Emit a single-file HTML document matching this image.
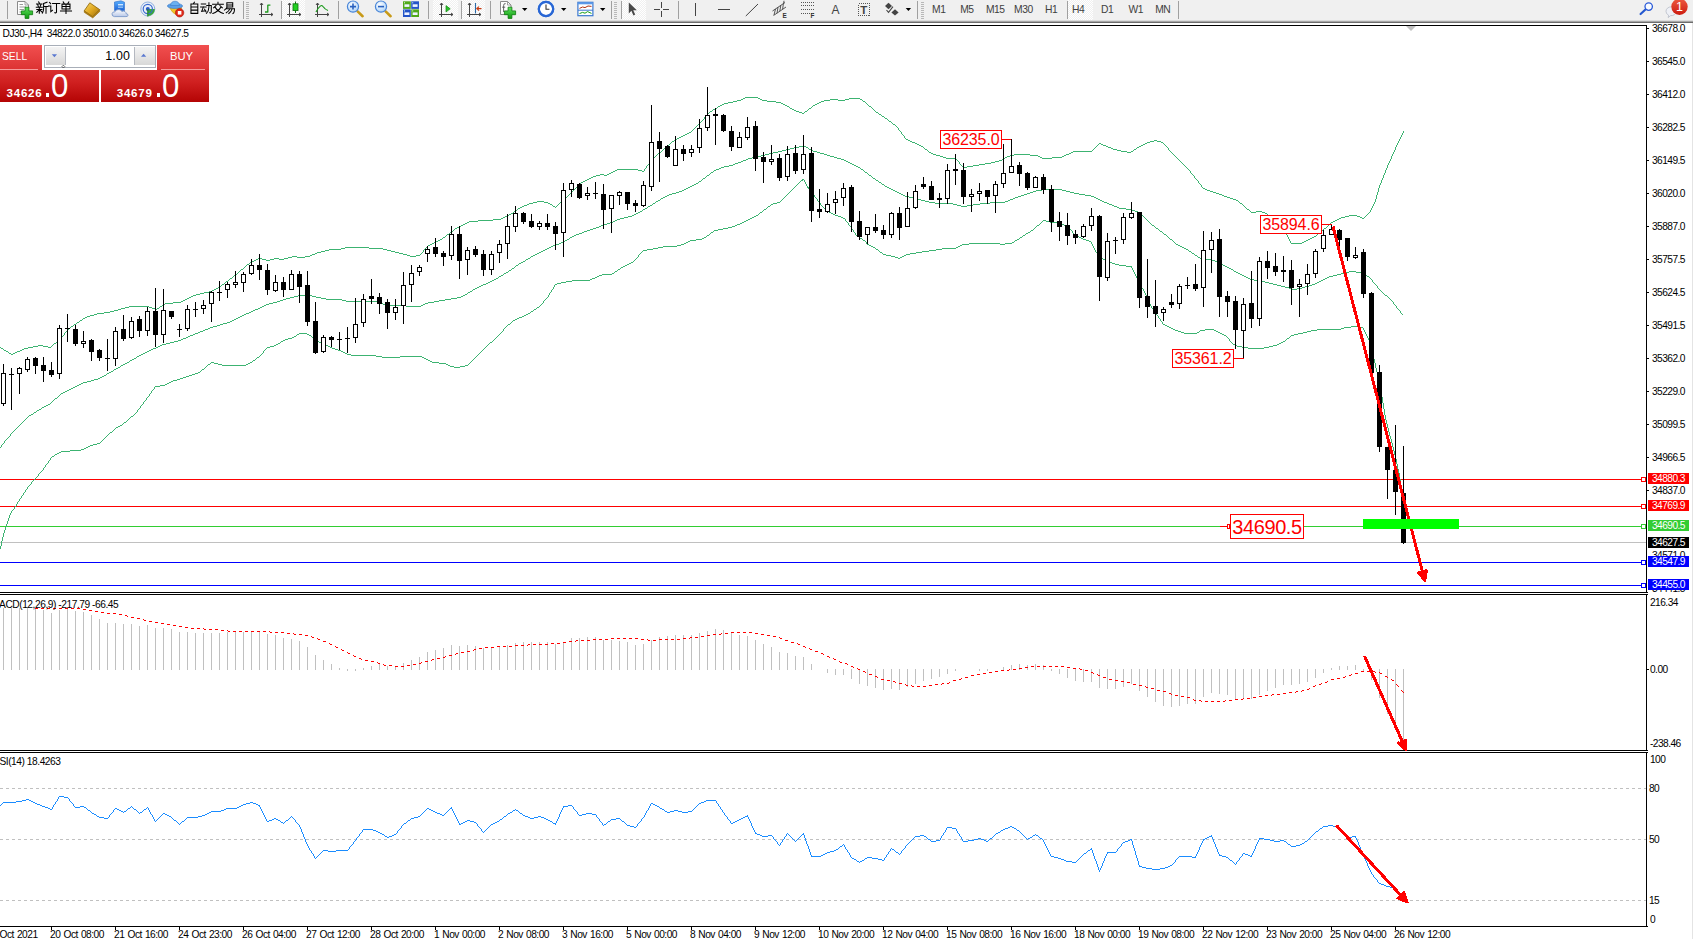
<!DOCTYPE html>
<html><head><meta charset="utf-8"><title>DJ30 H4</title>
<style>
html,body{margin:0;padding:0;background:#fff;}
body{width:1693px;height:939px;overflow:hidden;position:relative;font-family:"Liberation Sans",sans-serif;}
#tb{position:absolute;left:0;top:0;width:1693px;height:20px;background:#f0f0f0;}
#tbl1{position:absolute;left:0;top:20px;width:1693px;height:1px;background:#dcdcdc;}
#tbl2{position:absolute;left:0;top:21px;width:1693px;height:1px;background:#a6a6a6;}
#tbl3{position:absolute;left:0;top:22px;width:1693px;height:1px;background:#6c6c6c;}
#redge{position:absolute;left:1692px;top:23px;width:1px;height:916px;background:#e4e4e4;}
</style></head><body>
<svg id="chart" width="1693" height="939" viewBox="0 0 1693 939" style="position:absolute;left:0;top:0" shape-rendering="crispEdges">
<rect x="0" y="479" width="1646" height="1" fill="#ff0000"/>
<rect x="0" y="506" width="1646" height="1" fill="#ff0000"/>
<rect x="0" y="526" width="1646" height="1" fill="#32cd32"/>
<rect x="0" y="542" width="1646" height="1" fill="#c0c0c0"/>
<rect x="0" y="562" width="1646" height="1" fill="#0000ff"/>
<rect x="0" y="585" width="1646" height="1" fill="#0000ff"/>
<path d="M514 211.5h2M1256 211.5h6M9 353.5h2M13 353.5h2M589 178.5h2M345 247.5h24M583 181.5h2M191 296.5h2M258 258.5h4M274 258.5h5M284 258.5h4M1108 147.5h3M1137 147.5h2M459 226.5h2M741 99.5h2M760 99.5h2M830 99.5h8M845 99.5h4M860 99.5h2M917 144.5h2M1101 144.5h2M1143 144.5h2M933 154.5h3M1014 154.5h16M1066 154.5h3M979 164.5h6M912 142.5h3M1147 142.5h3M1161 142.5h2M80 320.5h2M737 100.5h4M762 100.5h5M824 100.5h6M838 100.5h7M889 121.5h2M329 249.5h12M383 249.5h4M505 216.5h2M1345 216.5h4M1357 216.5h3M533 202.5h4M544 202.5h4M560 202.5h2M447 234.5h2M315 253.5h2M399 253.5h4M11 354.5h2M995 161.5h4M617 169.5h21M501 218.5h2M1339 218.5h2M1362 218.5h2M936 155.5h4M1010 155.5h4M1030 155.5h8M1064 155.5h2M613 171.5h2M642 171.5h2M292 256.5h5M305 256.5h5M410 256.5h6M1219 194.5h3M455 228.5h2M1324 228.5h2M925 149.5h2M1113 149.5h4M1134 149.5h2M520 207.5h2M600 174.5h4M607 174.5h2M310 255.5h2M407 255.5h3M416 255.5h4M110 311.5h4M325 250.5h4M387 250.5h4M733 101.5h4M767 101.5h9M821 101.5h3M863 101.5h2M173 302.5h8M529 203.5h4M548 203.5h2M1240 203.5h2M1230 198.5h3M288 257.5h4M297 257.5h8M97 313.5h7M963 167.5h4M1073 151.5h19M1121 151.5h6M1131 151.5h2M469 221.5h9M1333 221.5h2M493 219.5h8M1337 219.5h2M946 158.5h10M1042 158.5h10M6 351.5h2M17 351.5h3M1310 238.5h2M1207 190.5h3M38 345.5h5M15 352.5h2M87 316.5h3M125 307.5h4M149 307.5h3M943 157.5h3M1005 157.5h2M1040 157.5h2M1052 157.5h10M672 141.5h2M910 141.5h2M1150 141.5h4M1157 141.5h4M931 153.5h2M1069 153.5h2M33 346.5h5M43 346.5h5M114 310.5h4M254 260.5h2M266 260.5h4M28 347.5h5M48 347.5h3M1236 200.5h2M121 308.5h4M152 308.5h3M157 308.5h2M921 146.5h2M1106 146.5h2M1139 146.5h2M596 175.5h4M604 175.5h3M879 114.5h2M593 176.5h3M214 289.5h2M728 102.5h5M776 102.5h5M819 102.5h2M1117 150.5h4M341 248.5h4M369 248.5h14M659 152.5h2M929 152.5h2M1071 152.5h2M1127 152.5h4M724 103.5h4M781 103.5h2M817 103.5h2M71 326.5h2M745 97.5h13M196 294.5h4M434 242.5h2M1302 242.5h2M432 243.5h2M1291 243.5h11M893 124.5h2M802 113.5h2M1233 199.5h3M527 204.5h2M550 204.5h2M1224 196.5h3M967 166.5h6M615 170.5h2M638 170.5h4M999 160.5h3M685 134.5h2M163 304.5h2M256 259.5h2M262 259.5h4M270 259.5h4M279 259.5h5M193 295.5h3M991 162.5h4M518 208.5h2M478 220.5h15M1335 220.5h2M189 297.5h2M77 322.5h2M524 205.5h3M522 206.5h2M553 206.5h2M882 116.5h2M503 217.5h2M1341 217.5h4M1360 217.5h2M1314 236.5h2M1251 212.5h5M1262 212.5h3M1002 159.5h2M250 262.5h2M165 303.5h8M321 251.5h4M391 251.5h4M4 350.5h2M20 350.5h2M1216 193.5h3M457 227.5h2M118 309.5h3M155 309.5h2M940 156.5h3M1007 156.5h3M1038 156.5h2M1062 156.5h2M609 173.5h2M915 143.5h2M1099 143.5h2M1145 143.5h2M687 133.5h2M104 312.5h6M129 306.5h20M160 306.5h2M181 301.5h2M537 201.5h7M720 105.5h2M785 105.5h2M813 105.5h2M591 177.5h2M438 240.5h2M1306 240.5h2M587 179.5h2M667 145.5h2M919 145.5h2M1103 145.5h3M1141 145.5h2M1222 195.5h2M689 132.5h2M509 214.5h2M209 291.5h3M743 98.5h2M758 98.5h2M849 98.5h11M440 239.5h2M1308 239.5h2M463 224.5h2M312 254.5h3M403 254.5h4M235 274.5h2M1205 189.5h2M677 138.5h2M461 225.5h2M507 215.5h2M1349 215.5h8M1111 148.5h2M1247 209.5h2M74 324.5h2M1203 188.5h2M94 314.5h3M973 165.5h6M317 252.5h4M395 252.5h4M985 163.5h6M715 108.5h2M790 108.5h2M809 108.5h2M611 172.5h2M679 137.5h2M467 222.5h2M1331 222.5h2M230 278.5h2M85 317.5h2M1318 233.5h2M451 231.5h2M54 343.5h2M718 106.5h2M787 106.5h2M869 106.5h2M436 241.5h2M1304 241.5h2M1227 197.5h3M22 349.5h2M200 293.5h4M799 112.5h3M876 112.5h2M713 109.5h2M792 109.5h2M908 140.5h2M1154 140.5h3M252 261.5h2M794 110.5h2M1 348.5h2M24 348.5h4M681 136.5h2M204 292.5h5M443 237.5h2M1312 237.5h2M212 290.5h2M722 104.5h2M783 104.5h2M815 104.5h2M675 139.5h2M906 139.5h2M1210 191.5h3M585 180.5h2M683 135.5h2M241 269.5h2M187 298.5h2M216 288.5h2M465 223.5h2M710 111.5h2M796 111.5h3M805 111.5h2M1213 192.5h3M226 281.5h2M183 300.5h2M885 118.5h2M581 182.5h2M90 315.5h4M511 213.5h2M1265 213.5h2M218 287.5h2M247 264.5h2M83 318.5h2M430 244.5h2M185 299.5h2M222 284.5h2M428 245.5h2M446.5 235v1M1287.5 235v2M1316.5 235v1M1250.5 211v1M1370.5 210v2M1195.5 178v1M1382.5 178v2M426.5 247v1M1198.5 181v2M1381.5 180v3M665.5 147v1M923.5 147v1M1095.5 147v1M1167.5 147v1M1395.5 147v3M1279.5 226v1M1327.5 226v1M669.5 144v1M1098.5 144v1M1164.5 144v1M1397.5 143v2M657.5 154v1M1173.5 154v1M1392.5 154v2M645.5 168v1M1187.5 168v1M1386.5 168v2M648.5 164v1M960.5 164v1M1183.5 164v1M1388.5 163v2M671.5 142v1M1398.5 141v2M862.5 100v1M701.5 121v1M424.5 249v1M1269.5 216v1M1365.5 216v1M1239.5 202v1M1374.5 202v2M1286.5 234v1M1317.5 234v1M421.5 253v1M650.5 161v2M958.5 161v1M1180.5 161v1M1389.5 161v2M717.5 107v1M789.5 107v1M811.5 107v1M871.5 107v1M644.5 169v2M1188.5 169v1M1271.5 218v1M656.5 155v1M1174.5 155v1M1190.5 171v2M1385.5 170v3M569.5 194v1M1377.5 192v3M1280.5 227v2M663.5 149v1M1093.5 149v1M1168.5 148v2M555.5 207v1M1245.5 207v1M1372.5 206v2M1192.5 174v1M1384.5 173v2M704.5 117v2M884.5 117v1M58.5 340v1M423.5 250v2M559.5 203v1M565.5 198v1M1376.5 195v4M646.5 166v2M1186.5 167v1M1387.5 165v3M661.5 151v1M928.5 151v1M1170.5 151v1M1394.5 150v2M1274.5 221v1M229.5 279v1M1272.5 219v1M653.5 158v1M1004.5 158v1M1177.5 158v1M1391.5 156v3M442.5 238v1M1288.5 237v2M573.5 190v1M1378.5 188v4M52.5 345v1M8.5 352v1M159.5 307v1M654.5 157v1M1176.5 157v1M658.5 153v1M1172.5 153v1M1393.5 152v2M51.5 346v1M0.5 347v1M563.5 200v1M1375.5 199v3M666.5 146v1M1096.5 146v1M1166.5 146v1M1396.5 145v2M1193.5 175v1M1383.5 175v3M707.5 114v1M237.5 273v1M1194.5 176v2M865.5 102v1M662.5 150v1M927.5 150v1M1092.5 150v1M1133.5 150v1M1169.5 150v1M425.5 248v1M1171.5 152v1M866.5 103v1M696.5 126v1M896.5 126v1M63.5 335v1M693.5 129v1M898.5 128v2M1290.5 241v2M698.5 124v1M450.5 232v1M1284.5 232v1M1320.5 232v1M708.5 113v1M878.5 113v1M564.5 199v1M558.5 204v1M1242.5 204v1M1373.5 204v2M516.5 210v1M1249.5 210v1M567.5 196v1M962.5 166v1M1185.5 166v1M1189.5 170v1M651.5 160v1M957.5 160v1M1179.5 160v1M1390.5 159v2M902.5 134v1M1402.5 133v2M959.5 162v2M1181.5 162v1M580.5 183v1M1199.5 183v1M1380.5 183v2M1246.5 208v1M1371.5 208v2M1273.5 220v1M243.5 268v1M552.5 205v1M557.5 205v1M1243.5 205v1M556.5 206v1M1244.5 206v1M705.5 116v1M1270.5 217v1M1364.5 217v1M445.5 236v1M513.5 212v1M1369.5 212v1M652.5 159v1M956.5 159v1M1178.5 159v1M570.5 193v1M1326.5 227v1M655.5 156v1M1175.5 156v1M1191.5 173v1M670.5 143v1M1163.5 143v1M453.5 230v1M1282.5 230v1M1322.5 230v1M901.5 132v2M562.5 201v1M1238.5 201v1M868.5 105v1M576.5 187v1M1202.5 187v1M1379.5 185v3M1289.5 239v2M65.5 332v1M1196.5 179v1M1097.5 145v1M1165.5 145v1M568.5 195v1M1403.5 131v2M57.5 341v1M234.5 275v1M1267.5 214v1M1367.5 214v1M702.5 120v1M888.5 120v1M69.5 328v1M1277.5 224v1M1329.5 224v1M420.5 254v1M64.5 333v2M245.5 266v1M703.5 119v1M887.5 119v1M574.5 189v1M905.5 138v1M1400.5 137v2M578.5 185v1M1201.5 185v2M1278.5 225v1M1328.5 225v1M221.5 285v1M1268.5 215v1M1366.5 215v1M664.5 148v1M924.5 148v1M1094.5 148v1M1136.5 148v1M517.5 209v1M575.5 188v1M647.5 165v1M961.5 165v1M1184.5 165v1M422.5 252v1M649.5 163v1M1182.5 163v1M872.5 108v1M454.5 229v1M1281.5 229v1M1323.5 229v1M691.5 131v1M900.5 131v1M904.5 136v2M1275.5 222v1M449.5 233v1M1285.5 233v1M1283.5 231v1M1321.5 231v1M812.5 106v1M566.5 197v1M56.5 342v1M3.5 349v1M706.5 115v1M881.5 115v1M68.5 329v1M709.5 112v1M804.5 112v1M808.5 109v1M873.5 109v1M674.5 140v1M1399.5 139v2M76.5 323v1M220.5 286v1M712.5 110v1M807.5 110v1M874.5 110v1M1401.5 135v2M228.5 280v1M82.5 319v1M867.5 104v1M695.5 127v1M897.5 127v1M62.5 336v1M572.5 191v1M1197.5 180v1M903.5 135v1M579.5 184v1M1200.5 184v1M577.5 186v1M249.5 263v1M427.5 246v1M1276.5 223v1M1330.5 223v1M225.5 282v1M875.5 111v1M571.5 192v1M66.5 331v1M694.5 128v1M61.5 337v1M246.5 265v1M1368.5 213v1M224.5 283v1M232.5 277v1M700.5 122v1M891.5 122v1M699.5 123v1M892.5 123v1M67.5 330v1M692.5 130v1M899.5 130v1M59.5 339v1M240.5 270v1M162.5 305v1M73.5 325v1M697.5 125v1M895.5 125v1M233.5 276v1M60.5 338v1M239.5 271v1M70.5 327v1M53.5 344v1M238.5 272v1M244.5 267v1M79.5 321v1" fill="none" stroke="#3cb371" stroke-width="1"/>
<path d="M479 286.5h2M1281 286.5h4M1305 286.5h4M258 308.5h2M506 272.5h2M1236 272.5h2M1345 272.5h4M1356 272.5h5M690 186.5h2M885 186.5h2M290 297.5h4M316 297.5h5M457 297.5h4M658 200.5h2M921 200.5h4M1008 200.5h2M1100 200.5h2M141 354.5h2M34 412.5h2M273 302.5h4M377 302.5h3M428 302.5h6M648 206.5h2M961 206.5h6M1114 206.5h3M686 188.5h2M889 188.5h2M483 284.5h3M1273 284.5h4M1312 284.5h3M490 281.5h2M1260 281.5h5M1319 281.5h2M765 154.5h4M824 154.5h3M107 373.5h2M286 298.5h4M321 298.5h5M451 298.5h6M684 189.5h2M891 189.5h2M1042 189.5h20M653 203.5h2M935 203.5h18M980 203.5h10M1107 203.5h2M262 306.5h2M406 306.5h15M790 148.5h4M125 363.5h2M277 301.5h3M346 301.5h31M434 301.5h5M48 404.5h2M217 325.5h3M643 209.5h2M1126 209.5h6M280 300.5h3M342 300.5h4M439 300.5h6M528 258.5h2M1200 258.5h6M752 157.5h4M834 157.5h3M607 223.5h3M477 287.5h2M1285 287.5h4M1302 287.5h3M663 197.5h2M909 197.5h4M1015 197.5h3M1094 197.5h2M496 278.5h2M1248 278.5h2M1325 278.5h2M264 305.5h2M389 305.5h12M403 305.5h3M421 305.5h2M778 151.5h4M813 151.5h4M174 341.5h4M526 259.5h2M1206 259.5h5M143 353.5h2M238 317.5h2M769 153.5h4M820 153.5h4M492 280.5h2M1254 280.5h6M1321 280.5h2M205 329.5h3M743 160.5h3M844 160.5h2M711 172.5h2M865 172.5h2M596 227.5h3M512 268.5h2M1229 268.5h2M682 190.5h2M893 190.5h2M1036 190.5h6M1062 190.5h4M676 192.5h3M897 192.5h2M1030 192.5h3M1070 192.5h4M162 344.5h4M699 181.5h2M494 279.5h2M1250 279.5h4M1323 279.5h2M879 182.5h2M756 156.5h5M830 156.5h4M499 276.5h2M1244 276.5h2M1329 276.5h4M1367 276.5h2M650 205.5h2M957 205.5h4M967 205.5h6M1112 205.5h2M716 169.5h3M861 169.5h2M696 183.5h2M240 316.5h2M473 289.5h2M1292 289.5h5M929 202.5h6M990 202.5h15M1104 202.5h3M1211 260.5h4M236 318.5h2M656 201.5h2M925 201.5h4M1005 201.5h3M1102 201.5h2M599 226.5h2M661 198.5h2M913 198.5h4M1013 198.5h2M1096 198.5h2M255 309.5h3M638 212.5h2M1138 212.5h2M624 217.5h4M794 147.5h5M806 147.5h2M636 213.5h2M193 334.5h2M132 359.5h2M587 230.5h3M703 178.5h2M873 178.5h2M153 348.5h3M667 195.5h2M903 195.5h2M1021 195.5h3M1085 195.5h6M724 166.5h5M856 166.5h2M738 162.5h3M848 162.5h2M748 158.5h4M837 158.5h4M721 167.5h3M858 167.5h2M65 391.5h2M151 349.5h2M521 262.5h2M1217 262.5h2M42 407.5h2M1221 264.5h2M917 199.5h4M1010 199.5h3M1098 199.5h2M266 304.5h3M383 304.5h6M401 304.5h2M423 304.5h2M628 216.5h4M773 152.5h5M817 152.5h3M83 382.5h4M735 163.5h3M850 163.5h2M504 273.5h2M1238 273.5h2M1341 273.5h4M1361 273.5h2M227 322.5h3M559 243.5h2M246 313.5h3M707 175.5h2M869 175.5h2M1240 274.5h2M1337 274.5h4M1363 274.5h2M579 233.5h3M501 275.5h2M1242 275.5h2M1333 275.5h4M1365 275.5h2M574 235.5h2M714 170.5h2M486 283.5h2M1269 283.5h4M1315 283.5h2M634 214.5h2M601 225.5h2M1152 225.5h2M672 193.5h4M899 193.5h2M1027 193.5h3M1074 193.5h5M632 215.5h2M692 185.5h2M77 385.5h2M73 387.5h2M547 248.5h2M1184 248.5h2M782 150.5h4M811 150.5h2M283 299.5h3M326 299.5h16M445 299.5h6M203 330.5h2M170 342.5h4M567 239.5h2M1170 239.5h2M613 221.5h2M640 211.5h2M1135 211.5h3M610 222.5h3M160 345.5h2M509 270.5h2M733 164.5h2M852 164.5h2M741 161.5h2M846 161.5h2M481 285.5h2M1277 285.5h4M1309 285.5h3M269 303.5h4M380 303.5h3M425 303.5h3M565 240.5h2M1231 269.5h2M535 254.5h2M729 165.5h4M854 165.5h2M584 231.5h3M1160 231.5h2M1117 207.5h2M669 194.5h3M901 194.5h2M1024 194.5h3M1079 194.5h6M475 288.5h2M1289 288.5h3M1297 288.5h5M98 378.5h2M665 196.5h2M905 196.5h4M1018 196.5h3M1091 196.5h3M39 409.5h2M298 295.5h14M463 295.5h2M1385 295.5h2M519 263.5h2M1219 263.5h2M260 307.5h2M81 383.5h2M195 333.5h3M543 250.5h2M223 323.5h4M617 219.5h3M694 184.5h2M882 184.5h2M556 244.5h3M1176 244.5h2M186 337.5h2M181 339.5h2M953 204.5h4M973 204.5h7M1109 204.5h3M603 224.5h4M230 321.5h2M799 146.5h4M804 146.5h2M1132 210.5h3M576 234.5h3M1164 234.5h2M761 155.5h4M827 155.5h3M104 375.5h2M213 326.5h4M123 364.5h2M294 296.5h4M312 296.5h4M461 296.5h2M563 241.5h2M75 386.5h2M91 380.5h3M537 253.5h2M1192 253.5h2M55 398.5h2M572 236.5h2M253 310.5h2M190 335.5h3M688 187.5h2M887 187.5h2M63 392.5h2M551 246.5h2M1180 246.5h2M94 379.5h4M249 312.5h2M679 191.5h3M895 191.5h2M1033 191.5h3M1066 191.5h4M516 265.5h2M1223 265.5h2M582 232.5h2M645 208.5h2M1119 208.5h7M615 220.5h2M786 149.5h4M809 149.5h2M746 159.5h2M841 159.5h3M1234 271.5h2M1349 271.5h7M465 294.5h2M590 229.5h3M183 338.5h3M242 315.5h2M545 249.5h2M1186 249.5h2M1198 257.5h2M31 414.5h2M539 252.5h2M234 319.5h2M130 360.5h2M149 350.5h2M37 410.5h2M251 311.5h2M114 369.5h2M561 242.5h2M220 324.5h3M1246 277.5h2M1327 277.5h2M553 245.5h3M1178 245.5h2M719 168.5h2M178 340.5h3M210 327.5h3M533 255.5h2M1195 255.5h2M137 356.5h2M71 388.5h2M244 314.5h2M470 291.5h2M200 331.5h3M139 355.5h2M541 251.5h2M1189 251.5h2M158 346.5h2M468 292.5h2M29 415.5h2M593 228.5h3M1156 228.5h2M145 352.5h2M61 393.5h2M111 371.5h2M620 218.5h4M531 256.5h2M570 237.5h2M121 365.5h2M488 282.5h2M1265 282.5h4M1317 282.5h2M198 332.5h2M69 389.5h2M46 405.5h2M232 320.5h2M147 351.5h2M549 247.5h2M1182 247.5h2M876 180.5h2M1225 266.5h2M1227 267.5h2M156 347.5h2M102 376.5h2M523 261.5h2M1215 261.5h2M87 381.5h4M127 362.5h2M208 328.5h2M79 384.5h2M166 343.5h4M44 406.5h2M67 390.5h2M100 377.5h2M109 372.5h2M188 336.5h2M116 368.5h2M134 358.5h2M118 367.5h2M1377.5 286v2M1397.5 308v1M1388.5 297v1M1393.5 302v2M1375.5 284v1M52.5 401v1M1372.5 280v2M1389.5 298v1M1396.5 306v2M808.5 148v1M1392.5 301v1M1391.5 300v1M1150.5 223v1M1370.5 278v1M1395.5 305v1M1155.5 227v1M878.5 181v1M1371.5 279v1M698.5 182v1M881.5 183v1M1379.5 289v1M655.5 202v1M525.5 260v1M1154.5 226v1M13.5 431v1M1398.5 309v1M1144.5 217v1M136.5 357v1M8.5 437v1M1140.5 213v1M1159.5 230v1M702.5 179v1M875.5 179v1M20.5 424v1M518.5 264v1M660.5 199v1M1394.5 304v1M1143.5 216v1M1175.5 243v1M27.5 417v1M1401.5 313v1M503.5 274v1M1163.5 233v1M1166.5 235v1M467.5 293v1M1383.5 293v1M863.5 170v1M1374.5 283v1M1141.5 214v1M1142.5 215v1M884.5 185v1M1390.5 299v1M33.5 413v1M57.5 397v1M1148.5 221v1M1149.5 222v1M106.5 374v1M1233.5 270v1M1376.5 285v1M1172.5 240v1M511.5 269v1M1194.5 254v1M647.5 207v1M1378.5 288v1M1.5 445v2M12.5 432v1M1188.5 250v1M1146.5 219v1M4.5 441v2M19.5 425v1M652.5 204v1M16.5 428v1M1151.5 224v1M642.5 210v1M50.5 403v1M23.5 421v1M1387.5 296v1M1173.5 241v1M1167.5 236v1M1399.5 310v1M709.5 174v1M868.5 174v1M113.5 370v1M1400.5 311v2M1162.5 232v1M5.5 440v1M1147.5 220v1M508.5 271v1M1384.5 294v1M803.5 145v1M1158.5 229v1M51.5 402v1M120.5 366v1M710.5 173v1M867.5 173v1M58.5 396v1M530.5 257v1M1191.5 252v1M41.5 408v1M1174.5 242v1M498.5 277v1M1369.5 277v1M860.5 168v1M17.5 427v1M569.5 238v1M1169.5 238v1M9.5 436v1M24.5 420v1M472.5 290v1M1380.5 290v1M1402.5 314v1M1381.5 291v1M28.5 416v1M1382.5 292v1M1145.5 218v1M6.5 439v1M1197.5 256v1M1168.5 237v1M10.5 434v2M1373.5 282v1M54.5 399v1M701.5 180v1M515.5 266v1M514.5 267v1M14.5 430v1M129.5 361v1M59.5 395v1M36.5 411v1M3.5 443v1M706.5 176v1M871.5 176v1M21.5 423v1M25.5 419v1M713.5 171v1M864.5 171v1M60.5 394v1M15.5 429v1M7.5 438v1M2.5 444v1M22.5 422v1M705.5 177v1M872.5 177v1M53.5 400v1M26.5 418v1M0.5 447v1M11.5 433v1M18.5 426v1" fill="none" stroke="#3cb371" stroke-width="1"/>
<path d="M707 235.5h2M1023 235.5h2M1075 235.5h2M572 280.5h18M351 355.5h25M222 365.5h24M448 365.5h2M465 365.5h3M171 381.5h2M332 348.5h3M1248 348.5h16M625 265.5h2M1119 265.5h7M653 248.5h5M942 248.5h14M883 254.5h3M906 254.5h4M70 450.5h11M880 252.5h2M916 252.5h6M285 339.5h3M297 334.5h2M307 334.5h2M1222 334.5h2M1294 334.5h4M773 203.5h4M704 237.5h2M1020 237.5h2M1079 237.5h2M376 356.5h6M400 356.5h22M643 250.5h4M929 250.5h7M338 350.5h3M309 335.5h2M1224 335.5h2M1291 335.5h3M519 317.5h3M430 361.5h2M274 345.5h2M325 345.5h3M1235 345.5h2M1273 345.5h4M684 243.5h2M969 243.5h31M1005 243.5h7M537 307.5h2M1178 331.5h3M1216 331.5h2M1307 331.5h4M347 354.5h4M623 266.5h2M1126 266.5h6M450 366.5h4M460 366.5h5M335 349.5h3M599 275.5h3M658 247.5h5M873 247.5h2M956 247.5h2M886 255.5h5M904 255.5h2M257 357.5h2M382 357.5h18M422 357.5h2M341 351.5h2M723 228.5h5M1068 228.5h2M283 340.5h2M315 340.5h2M718 229.5h5M155 386.5h5M167 383.5h2M319 342.5h2M490 342.5h2M1281 342.5h2M647 249.5h6M876 249.5h2M936 249.5h6M592 278.5h3M1169 327.5h2M1344 327.5h7M1359 327.5h4M278 343.5h2M321 343.5h2M1279 343.5h2M208 364.5h2M218 364.5h4M246 364.5h2M446 364.5h2M764 209.5h2M1175 330.5h3M1200 330.5h5M1214 330.5h2M1311 330.5h6M732 226.5h3M1065 226.5h2M454 367.5h6M714 230.5h4M1031 230.5h2M627 264.5h2M1115 264.5h4M294 336.5h2M752 217.5h2M841 217.5h2M192 374.5h3M281 341.5h2M317 341.5h2M1283 341.5h2M561 282.5h5M748 219.5h2M61 451.5h9M663 246.5h14M871 246.5h2M958 246.5h2M910 253.5h6M615 271.5h2M177 379.5h3M686 242.5h2M1012 242.5h2M528 313.5h2M120 425.5h2M801 180.5h2M1173 329.5h2M1205 329.5h9M1317 329.5h24M702 238.5h2M860 238.5h2M1081 238.5h2M750 218.5h2M843 218.5h2M690 240.5h6M863 240.5h2M1015 240.5h2M1086 240.5h3M631 262.5h2M1110 262.5h2M737 224.5h3M1062 224.5h2M688 241.5h2M1089 241.5h2M270 346.5h4M328 346.5h2M1237 346.5h5M1269 346.5h4M857 236.5h2M1077 236.5h2M93 444.5h4M267 347.5h3M330 347.5h2M1242 347.5h6M1264 347.5h5M211 362.5h3M250 362.5h2M432 362.5h7M253 360.5h2M428 360.5h2M831 213.5h2M97 443.5h3M276 344.5h2M323 344.5h2M1233 344.5h2M1277 344.5h2M299 333.5h8M1184 333.5h13M1220 333.5h2M1298 333.5h5M742 222.5h2M1050 222.5h7M84 448.5h2M86 447.5h2M81 449.5h3M760 212.5h2M829 212.5h2M124 422.5h2M629 263.5h2M1112 263.5h3M198 372.5h2M169 382.5h2M1026 233.5h2M110 432.5h2M214 363.5h4M248 363.5h2M439 363.5h7M1171 328.5h2M1341 328.5h3M681 244.5h3M867 244.5h2M962 244.5h7M1000 244.5h5M728 227.5h4M1167 326.5h2M1351 326.5h8M754 216.5h2M838 216.5h3M696 239.5h6M1017 239.5h2M1083 239.5h3M292 337.5h2M189 375.5h3M288 338.5h4M1287 338.5h2M116 427.5h2M515 319.5h2M735 225.5h2M1037 225.5h2M802 179.5h2M891 256.5h4M902 256.5h2M524 315.5h2M1181 332.5h3M1197 332.5h2M1218 332.5h2M1303 332.5h4M118 426.5h2M426 359.5h2M57 453.5h2M590 279.5h2M1103 259.5h2M165 384.5h2M777 202.5h3M59 452.5h2M534 309.5h2M55 454.5h2M833 214.5h2M1105 260.5h3M744 221.5h2M1046 221.5h4M131 416.5h2M1108 261.5h2M677 245.5h4M869 245.5h2M960 245.5h2M898 258.5h2M1101 258.5h2M771 204.5h2M90 445.5h3M508 324.5h2M1163 324.5h2M180 378.5h3M612 273.5h2M895 257.5h3M900 257.5h2M183 377.5h3M517 318.5h2M513 320.5h2M621 267.5h2M740 223.5h2M1057 223.5h5M922 251.5h7M531 311.5h2M424 358.5h2M756 215.5h2M835 215.5h3M343 352.5h2M746 220.5h2M1043 220.5h3M173 380.5h4M526 314.5h2M618 269.5h2M566 281.5h6M195 373.5h3M522 316.5h2M555 284.5h2M557 283.5h4M711 232.5h2M1028 232.5h2M186 376.5h3M807 187.5h2M827 211.5h2M602 274.5h10M160 385.5h5M595 277.5h2M1165 325.5h2M768 206.5h2M345 353.5h2M808 188.5h2M52 456.5h2M597 276.5h2M88 446.5h2M202 369.5h2M856.5 235v1M1138.5 280v2M260.5 355v1M477.5 355v1M1373.5 355v4M550.5 292v1M1144.5 291v2M207.5 365v1M1375.5 363v5M1378.5 377v5M128.5 419v1M1385.5 415v5M266.5 348v1M484.5 348v1M1371.5 347v4M201.5 370v1M1376.5 368v4M127.5 420v1M1386.5 420v4M875.5 248v1M1094.5 248v2M639.5 254v1M1098.5 254v2M1393.5 447v4M38.5 474v2M1399.5 473v6M641.5 252v1M1096.5 252v1M314.5 339v1M494.5 339v1M1229.5 339v2M1286.5 339v1M1368.5 338v2M499.5 334v1M1366.5 334v2M820.5 203v2M859.5 237v1M259.5 356v1M476.5 356v1M878.5 250v1M1095.5 250v2M264.5 350v1M482.5 350v1M296.5 335v1M498.5 335v1M1158.5 316v2M140.5 406v2M1383.5 403v6M252.5 361v1M471.5 361v1M1374.5 359v4M540.5 305v1M1150.5 304v2M487.5 345v1M1370.5 343v4M866.5 242v2M1091.5 242v2M1151.5 306v2M502.5 331v1M1199.5 331v1M1364.5 330v2M261.5 354v1M478.5 354v1M1372.5 351v4M18.5 501v1M151.5 391v2M1381.5 392v5M206.5 366v1M14.5 507v2M50.5 458v2M1396.5 459v5M265.5 349v1M483.5 349v1M1135.5 274v2M549.5 293v2M1145.5 293v2M784.5 197v1M815.5 197v1M3.5 533v4M104.5 438v1M1390.5 436v3M1093.5 246v2M638.5 255v2M544.5 300v1M1148.5 299v3M11.5 511v2M475.5 357v1M263.5 351v2M481.5 351v1M851.5 227v2M1034.5 228v1M493.5 340v1M1285.5 340v1M1369.5 340v3M852.5 229v1M1033.5 229v1M1070.5 229v1M790.5 191v1M811.5 191v2M1379.5 382v5M709.5 234v1M855.5 233v2M1025.5 234v1M1074.5 234v1M109.5 433v1M1389.5 432v4M280.5 342v1M1231.5 342v1M1137.5 278v2M139.5 408v1M505.5 327v1M489.5 343v1M1232.5 343v1M468.5 364v1M791.5 190v1M810.5 190v1M825.5 209v1M503.5 329v2M850.5 226v1M1036.5 226v1M205.5 367v1M853.5 230v2M1071.5 230v1M46.5 464v1M1397.5 464v5M2.5 537v4M40.5 472v1M1398.5 469v4M311.5 336v1M497.5 336v1M1226.5 336v1M1290.5 336v1M1367.5 336v2M1377.5 372v5M492.5 341v1M1230.5 341v1M1139.5 282v2M845.5 219v2M536.5 308v1M1152.5 308v1M148.5 396v1M1394.5 451v4M6.5 524v3M617.5 270v1M1133.5 270v2M640.5 253v1M882.5 253v1M1097.5 253v1M1156.5 313v2M1387.5 424v4M804.5 180v2M1363.5 328v2M788.5 193v1M812.5 193v1M45.5 465v2M1019.5 238v1M848.5 223v2M1039.5 224v1M787.5 194v1M813.5 194v1M865.5 241v1M1014.5 241v1M1.5 541v5M486.5 346v1M706.5 236v1M1022.5 236v1M30.5 484v1M1400.5 479v7M1392.5 443v4M485.5 347v1M470.5 362v1M472.5 360v1M17.5 502v2M5.5 527v3M138.5 409v1M1384.5 409v6M13.5 509v1M759.5 213v1M543.5 301v2M0.5 546v3M541.5 304v1M488.5 344v1M154.5 387v2M1380.5 387v5M500.5 333v1M1365.5 332v2M847.5 222v1M1041.5 222v1M136.5 412v1M4.5 530v3M133.5 415v1M16.5 504v2M785.5 196v1M814.5 195v2M144.5 401v1M1382.5 397v6M36.5 477v1M710.5 233v1M1073.5 233v1M548.5 295v2M1146.5 295v2M542.5 303v1M1149.5 302v2M210.5 363v1M469.5 363v1M8.5 518v3M504.5 328v1M112.5 431v1M1388.5 428v4M1092.5 244v2M783.5 198v1M816.5 198v1M1035.5 227v1M1067.5 227v1M48.5 461v2M506.5 326v1M862.5 239v1M312.5 337v1M496.5 337v1M1227.5 337v1M1289.5 337v1M107.5 435v1M313.5 338v1M495.5 338v1M1228.5 338v1M1160.5 319v2M510.5 323v1M1162.5 322v2M34.5 479v1M614.5 272v1M1134.5 272v2M849.5 225v1M1064.5 225v1M1099.5 256v1M1157.5 315v1M545.5 299v1M782.5 199v1M817.5 199v2M501.5 332v1M255.5 359v1M473.5 359v1M44.5 467v1M635.5 259v1M25.5 490v2M1401.5 486v6M141.5 405v1M819.5 202v1M105.5 437v1M21.5 496v2M27.5 487v2M1153.5 309v2M149.5 394v2M200.5 371v1M126.5 421v1M12.5 510v1M758.5 214v1M634.5 260v1M846.5 221v1M1042.5 221v1M789.5 192v1M766.5 208v1M824.5 208v1M49.5 460v1M713.5 231v1M1030.5 231v1M1072.5 231v2M108.5 434v1M796.5 185v1M806.5 184v2M1395.5 455v4M633.5 261v1M636.5 258v1M115.5 428v1M146.5 398v2M637.5 257v1M1100.5 257v1M26.5 489v1M1159.5 318v1M28.5 486v1M37.5 476v1M1131.5 267v1M1040.5 223v1M137.5 410v2M145.5 400v1M642.5 251v1M879.5 251v1M103.5 439v1M1391.5 439v4M153.5 389v1M1154.5 311v1M256.5 358v1M474.5 358v1M551.5 290v2M480.5 352v1M123.5 423v1M781.5 200v1M35.5 478v1M546.5 298v1M1147.5 297v2M51.5 457v1M620.5 268v1M1132.5 268v2M795.5 186v1M807.5 186v1M147.5 397v1M7.5 521v3M39.5 473v1M31.5 482v2M780.5 201v1M818.5 201v1M22.5 495v1M1402.5 492v4M150.5 393v1M54.5 455v1M533.5 310v1M553.5 287v2M1142.5 288v1M554.5 285v2M1141.5 286v2M1140.5 284v2M511.5 322v1M1143.5 289v2M547.5 297v1M798.5 183v1M805.5 182v2M102.5 440v1M797.5 184v1M854.5 232v1M539.5 306v1M794.5 187v1M762.5 211v1M552.5 289v1M1136.5 276v2M33.5 480v1M113.5 430v1M507.5 325v1M770.5 205v1M821.5 205v1M43.5 468v2M822.5 206v1M23.5 493v2M130.5 417v1M262.5 353v1M479.5 353v1M143.5 402v2M799.5 182v1M793.5 188v1M142.5 404v1M152.5 390v1M10.5 513v2M101.5 441v1M134.5 414v1M9.5 515v3M114.5 429v1M32.5 481v1M47.5 463v1M800.5 181v1M24.5 492v1M42.5 470v1M19.5 499v2M15.5 506v1M100.5 442v1M763.5 210v1M826.5 210v1M204.5 368v1M135.5 413v1M512.5 321v1M1161.5 321v1M129.5 418v1M792.5 189v1M809.5 189v1M786.5 195v1M106.5 436v1M41.5 471v1M530.5 312v1M1155.5 312v1M29.5 485v1M122.5 424v1M767.5 207v1M823.5 207v1M20.5 498v1" fill="none" stroke="#3cb371" stroke-width="1"/>
<rect x="3" y="364" width="1" height="42" fill="#000"/>
<rect x="1" y="373" width="5" height="31" fill="#000"/>
<rect x="2" y="374" width="3" height="29" fill="#fff"/>
<rect x="11" y="368" width="1" height="42" fill="#000"/>
<rect x="9" y="374" width="5" height="1" fill="#000"/>
<rect x="19" y="367" width="1" height="27" fill="#000"/>
<rect x="17" y="368" width="5" height="6" fill="#000"/>
<rect x="18" y="369" width="3" height="4" fill="#fff"/>
<rect x="27" y="357" width="1" height="15" fill="#000"/>
<rect x="25" y="359" width="5" height="11" fill="#000"/>
<rect x="26" y="360" width="3" height="9" fill="#fff"/>
<rect x="35" y="357" width="1" height="17" fill="#000"/>
<rect x="33" y="358" width="5" height="8" fill="#000"/>
<rect x="43" y="357" width="1" height="25" fill="#000"/>
<rect x="41" y="365" width="5" height="6" fill="#000"/>
<rect x="51" y="362" width="1" height="15" fill="#000"/>
<rect x="49" y="370" width="5" height="5" fill="#000"/>
<rect x="59" y="325" width="1" height="54" fill="#000"/>
<rect x="57" y="328" width="5" height="46" fill="#000"/>
<rect x="58" y="329" width="3" height="44" fill="#fff"/>
<rect x="67" y="314" width="1" height="28" fill="#000"/>
<rect x="65" y="328" width="5" height="1" fill="#000"/>
<rect x="75" y="325" width="1" height="21" fill="#000"/>
<rect x="73" y="329" width="5" height="15" fill="#000"/>
<rect x="83" y="331" width="1" height="17" fill="#000"/>
<rect x="81" y="341" width="5" height="3" fill="#000"/>
<rect x="82" y="342" width="3" height="1" fill="#fff"/>
<rect x="91" y="339" width="1" height="22" fill="#000"/>
<rect x="89" y="340" width="5" height="12" fill="#000"/>
<rect x="99" y="349" width="1" height="12" fill="#000"/>
<rect x="97" y="350" width="5" height="8" fill="#000"/>
<rect x="107" y="339" width="1" height="32" fill="#000"/>
<rect x="105" y="358" width="5" height="1" fill="#000"/>
<rect x="115" y="327" width="1" height="39" fill="#000"/>
<rect x="113" y="331" width="5" height="28" fill="#000"/>
<rect x="114" y="332" width="3" height="26" fill="#fff"/>
<rect x="123" y="315" width="1" height="26" fill="#000"/>
<rect x="121" y="329" width="5" height="10" fill="#000"/>
<rect x="131" y="317" width="1" height="22" fill="#000"/>
<rect x="129" y="321" width="5" height="17" fill="#000"/>
<rect x="130" y="322" width="3" height="15" fill="#fff"/>
<rect x="139" y="316" width="1" height="21" fill="#000"/>
<rect x="137" y="319" width="5" height="12" fill="#000"/>
<rect x="147" y="307" width="1" height="29" fill="#000"/>
<rect x="145" y="311" width="5" height="20" fill="#000"/>
<rect x="146" y="312" width="3" height="18" fill="#fff"/>
<rect x="155" y="288" width="1" height="59" fill="#000"/>
<rect x="153" y="311" width="5" height="24" fill="#000"/>
<rect x="163" y="289" width="1" height="54" fill="#000"/>
<rect x="161" y="310" width="5" height="25" fill="#000"/>
<rect x="162" y="311" width="3" height="23" fill="#fff"/>
<rect x="171" y="311" width="1" height="8" fill="#000"/>
<rect x="169" y="311" width="5" height="6" fill="#000"/>
<rect x="179" y="324" width="1" height="13" fill="#000"/>
<rect x="177" y="329" width="5" height="1" fill="#000"/>
<rect x="187" y="305" width="1" height="26" fill="#000"/>
<rect x="185" y="309" width="5" height="20" fill="#000"/>
<rect x="186" y="310" width="3" height="18" fill="#fff"/>
<rect x="195" y="302" width="1" height="15" fill="#000"/>
<rect x="193" y="309" width="5" height="1" fill="#000"/>
<rect x="203" y="300" width="1" height="14" fill="#000"/>
<rect x="201" y="305" width="5" height="4" fill="#000"/>
<rect x="202" y="306" width="3" height="2" fill="#fff"/>
<rect x="211" y="291" width="1" height="31" fill="#000"/>
<rect x="209" y="292" width="5" height="12" fill="#000"/>
<rect x="210" y="293" width="3" height="10" fill="#fff"/>
<rect x="219" y="281" width="1" height="20" fill="#000"/>
<rect x="217" y="292" width="5" height="1" fill="#000"/>
<rect x="227" y="282" width="1" height="16" fill="#000"/>
<rect x="225" y="284" width="5" height="6" fill="#000"/>
<rect x="226" y="285" width="3" height="4" fill="#fff"/>
<rect x="235" y="271" width="1" height="17" fill="#000"/>
<rect x="233" y="282" width="5" height="3" fill="#000"/>
<rect x="234" y="283" width="3" height="1" fill="#fff"/>
<rect x="243" y="272" width="1" height="20" fill="#000"/>
<rect x="241" y="274" width="5" height="9" fill="#000"/>
<rect x="242" y="275" width="3" height="7" fill="#fff"/>
<rect x="251" y="259" width="1" height="16" fill="#000"/>
<rect x="249" y="265" width="5" height="9" fill="#000"/>
<rect x="250" y="266" width="3" height="7" fill="#fff"/>
<rect x="259" y="254" width="1" height="26" fill="#000"/>
<rect x="257" y="265" width="5" height="5" fill="#000"/>
<rect x="267" y="264" width="1" height="31" fill="#000"/>
<rect x="265" y="270" width="5" height="20" fill="#000"/>
<rect x="275" y="275" width="1" height="17" fill="#000"/>
<rect x="273" y="282" width="5" height="9" fill="#000"/>
<rect x="274" y="283" width="3" height="7" fill="#fff"/>
<rect x="283" y="277" width="1" height="20" fill="#000"/>
<rect x="281" y="282" width="5" height="8" fill="#000"/>
<rect x="291" y="270" width="1" height="20" fill="#000"/>
<rect x="289" y="274" width="5" height="16" fill="#000"/>
<rect x="290" y="275" width="3" height="14" fill="#fff"/>
<rect x="299" y="271" width="1" height="32" fill="#000"/>
<rect x="297" y="274" width="5" height="13" fill="#000"/>
<rect x="307" y="271" width="1" height="55" fill="#000"/>
<rect x="305" y="285" width="5" height="37" fill="#000"/>
<rect x="315" y="302" width="1" height="52" fill="#000"/>
<rect x="313" y="321" width="5" height="32" fill="#000"/>
<rect x="323" y="335" width="1" height="18" fill="#000"/>
<rect x="321" y="337" width="5" height="15" fill="#000"/>
<rect x="322" y="338" width="3" height="13" fill="#fff"/>
<rect x="331" y="336" width="1" height="11" fill="#000"/>
<rect x="329" y="337" width="5" height="3" fill="#000"/>
<rect x="339" y="332" width="1" height="18" fill="#000"/>
<rect x="337" y="339" width="5" height="1" fill="#000"/>
<rect x="347" y="327" width="1" height="26" fill="#000"/>
<rect x="345" y="338" width="5" height="1" fill="#000"/>
<rect x="355" y="298" width="1" height="45" fill="#000"/>
<rect x="353" y="324" width="5" height="14" fill="#000"/>
<rect x="354" y="325" width="3" height="12" fill="#fff"/>
<rect x="363" y="294" width="1" height="33" fill="#000"/>
<rect x="361" y="299" width="5" height="24" fill="#000"/>
<rect x="362" y="300" width="3" height="22" fill="#fff"/>
<rect x="371" y="279" width="1" height="25" fill="#000"/>
<rect x="369" y="296" width="5" height="3" fill="#000"/>
<rect x="379" y="293" width="1" height="21" fill="#000"/>
<rect x="377" y="297" width="5" height="7" fill="#000"/>
<rect x="387" y="299" width="1" height="30" fill="#000"/>
<rect x="385" y="302" width="5" height="11" fill="#000"/>
<rect x="395" y="299" width="1" height="21" fill="#000"/>
<rect x="393" y="307" width="5" height="6" fill="#000"/>
<rect x="394" y="308" width="3" height="4" fill="#fff"/>
<rect x="403" y="272" width="1" height="52" fill="#000"/>
<rect x="401" y="285" width="5" height="21" fill="#000"/>
<rect x="402" y="286" width="3" height="19" fill="#fff"/>
<rect x="411" y="265" width="1" height="37" fill="#000"/>
<rect x="409" y="273" width="5" height="12" fill="#000"/>
<rect x="410" y="274" width="3" height="10" fill="#fff"/>
<rect x="419" y="265" width="1" height="11" fill="#000"/>
<rect x="417" y="267" width="5" height="5" fill="#000"/>
<rect x="418" y="268" width="3" height="3" fill="#fff"/>
<rect x="427" y="246" width="1" height="16" fill="#000"/>
<rect x="425" y="249" width="5" height="5" fill="#000"/>
<rect x="426" y="250" width="3" height="3" fill="#fff"/>
<rect x="435" y="238" width="1" height="19" fill="#000"/>
<rect x="433" y="247" width="5" height="7" fill="#000"/>
<rect x="443" y="251" width="1" height="15" fill="#000"/>
<rect x="441" y="253" width="5" height="4" fill="#000"/>
<rect x="451" y="226" width="1" height="34" fill="#000"/>
<rect x="449" y="234" width="5" height="22" fill="#000"/>
<rect x="450" y="235" width="3" height="20" fill="#fff"/>
<rect x="459" y="226" width="1" height="53" fill="#000"/>
<rect x="457" y="234" width="5" height="27" fill="#000"/>
<rect x="467" y="247" width="1" height="28" fill="#000"/>
<rect x="465" y="250" width="5" height="10" fill="#000"/>
<rect x="466" y="251" width="3" height="8" fill="#fff"/>
<rect x="475" y="246" width="1" height="11" fill="#000"/>
<rect x="473" y="249" width="5" height="6" fill="#000"/>
<rect x="483" y="250" width="1" height="26" fill="#000"/>
<rect x="481" y="254" width="5" height="16" fill="#000"/>
<rect x="491" y="251" width="1" height="24" fill="#000"/>
<rect x="489" y="254" width="5" height="16" fill="#000"/>
<rect x="490" y="255" width="3" height="14" fill="#fff"/>
<rect x="499" y="240" width="1" height="23" fill="#000"/>
<rect x="497" y="244" width="5" height="9" fill="#000"/>
<rect x="498" y="245" width="3" height="7" fill="#fff"/>
<rect x="507" y="214" width="1" height="45" fill="#000"/>
<rect x="505" y="226" width="5" height="18" fill="#000"/>
<rect x="506" y="227" width="3" height="16" fill="#fff"/>
<rect x="515" y="206" width="1" height="26" fill="#000"/>
<rect x="513" y="213" width="5" height="14" fill="#000"/>
<rect x="514" y="214" width="3" height="12" fill="#fff"/>
<rect x="523" y="212" width="1" height="12" fill="#000"/>
<rect x="521" y="213" width="5" height="9" fill="#000"/>
<rect x="531" y="214" width="1" height="14" fill="#000"/>
<rect x="529" y="221" width="5" height="6" fill="#000"/>
<rect x="539" y="221" width="1" height="9" fill="#000"/>
<rect x="537" y="223" width="5" height="4" fill="#000"/>
<rect x="538" y="224" width="3" height="2" fill="#fff"/>
<rect x="547" y="214" width="1" height="16" fill="#000"/>
<rect x="545" y="223" width="5" height="4" fill="#000"/>
<rect x="555" y="222" width="1" height="28" fill="#000"/>
<rect x="553" y="226" width="5" height="8" fill="#000"/>
<rect x="563" y="183" width="1" height="74" fill="#000"/>
<rect x="561" y="190" width="5" height="43" fill="#000"/>
<rect x="562" y="191" width="3" height="41" fill="#fff"/>
<rect x="571" y="180" width="1" height="17" fill="#000"/>
<rect x="569" y="183" width="5" height="7" fill="#000"/>
<rect x="570" y="184" width="3" height="5" fill="#fff"/>
<rect x="579" y="183" width="1" height="16" fill="#000"/>
<rect x="577" y="184" width="5" height="14" fill="#000"/>
<rect x="587" y="187" width="1" height="13" fill="#000"/>
<rect x="585" y="193" width="5" height="3" fill="#000"/>
<rect x="586" y="194" width="3" height="1" fill="#fff"/>
<rect x="595" y="182" width="1" height="17" fill="#000"/>
<rect x="593" y="193" width="5" height="1" fill="#000"/>
<rect x="603" y="184" width="1" height="45" fill="#000"/>
<rect x="601" y="194" width="5" height="16" fill="#000"/>
<rect x="611" y="195" width="1" height="38" fill="#000"/>
<rect x="609" y="195" width="5" height="14" fill="#000"/>
<rect x="610" y="196" width="3" height="12" fill="#fff"/>
<rect x="619" y="191" width="1" height="14" fill="#000"/>
<rect x="617" y="192" width="5" height="4" fill="#000"/>
<rect x="618" y="193" width="3" height="2" fill="#fff"/>
<rect x="627" y="192" width="1" height="18" fill="#000"/>
<rect x="625" y="192" width="5" height="12" fill="#000"/>
<rect x="635" y="200" width="1" height="12" fill="#000"/>
<rect x="633" y="203" width="5" height="3" fill="#000"/>
<rect x="643" y="181" width="1" height="26" fill="#000"/>
<rect x="641" y="185" width="5" height="21" fill="#000"/>
<rect x="642" y="186" width="3" height="19" fill="#fff"/>
<rect x="651" y="105" width="1" height="86" fill="#000"/>
<rect x="649" y="142" width="5" height="45" fill="#000"/>
<rect x="650" y="143" width="3" height="43" fill="#fff"/>
<rect x="659" y="132" width="1" height="50" fill="#000"/>
<rect x="657" y="141" width="5" height="8" fill="#000"/>
<rect x="667" y="145" width="1" height="13" fill="#000"/>
<rect x="665" y="146" width="5" height="11" fill="#000"/>
<rect x="675" y="136" width="1" height="30" fill="#000"/>
<rect x="673" y="149" width="5" height="17" fill="#000"/>
<rect x="674" y="150" width="3" height="15" fill="#fff"/>
<rect x="683" y="145" width="1" height="16" fill="#000"/>
<rect x="681" y="149" width="5" height="5" fill="#000"/>
<rect x="691" y="145" width="1" height="12" fill="#000"/>
<rect x="689" y="149" width="5" height="4" fill="#000"/>
<rect x="690" y="150" width="3" height="2" fill="#fff"/>
<rect x="699" y="119" width="1" height="34" fill="#000"/>
<rect x="697" y="128" width="5" height="20" fill="#000"/>
<rect x="698" y="129" width="3" height="18" fill="#fff"/>
<rect x="707" y="87" width="1" height="44" fill="#000"/>
<rect x="705" y="115" width="5" height="13" fill="#000"/>
<rect x="706" y="116" width="3" height="11" fill="#fff"/>
<rect x="715" y="108" width="1" height="37" fill="#000"/>
<rect x="713" y="114" width="5" height="2" fill="#000"/>
<rect x="723" y="114" width="1" height="18" fill="#000"/>
<rect x="721" y="115" width="5" height="16" fill="#000"/>
<rect x="731" y="126" width="1" height="25" fill="#000"/>
<rect x="729" y="131" width="5" height="16" fill="#000"/>
<rect x="739" y="132" width="1" height="16" fill="#000"/>
<rect x="737" y="137" width="5" height="11" fill="#000"/>
<rect x="738" y="138" width="3" height="9" fill="#fff"/>
<rect x="747" y="117" width="1" height="23" fill="#000"/>
<rect x="745" y="127" width="5" height="11" fill="#000"/>
<rect x="746" y="128" width="3" height="9" fill="#fff"/>
<rect x="755" y="121" width="1" height="50" fill="#000"/>
<rect x="753" y="126" width="5" height="33" fill="#000"/>
<rect x="763" y="152" width="1" height="31" fill="#000"/>
<rect x="761" y="157" width="5" height="5" fill="#000"/>
<rect x="771" y="145" width="1" height="20" fill="#000"/>
<rect x="769" y="159" width="5" height="3" fill="#000"/>
<rect x="770" y="160" width="3" height="1" fill="#fff"/>
<rect x="779" y="154" width="1" height="27" fill="#000"/>
<rect x="777" y="158" width="5" height="20" fill="#000"/>
<rect x="787" y="146" width="1" height="35" fill="#000"/>
<rect x="785" y="154" width="5" height="23" fill="#000"/>
<rect x="786" y="155" width="3" height="21" fill="#fff"/>
<rect x="795" y="145" width="1" height="29" fill="#000"/>
<rect x="793" y="153" width="5" height="18" fill="#000"/>
<rect x="803" y="135" width="1" height="39" fill="#000"/>
<rect x="801" y="154" width="5" height="16" fill="#000"/>
<rect x="802" y="155" width="3" height="14" fill="#fff"/>
<rect x="811" y="147" width="1" height="75" fill="#000"/>
<rect x="809" y="153" width="5" height="58" fill="#000"/>
<rect x="819" y="189" width="1" height="29" fill="#000"/>
<rect x="817" y="209" width="5" height="3" fill="#000"/>
<rect x="827" y="193" width="1" height="20" fill="#000"/>
<rect x="825" y="204" width="5" height="8" fill="#000"/>
<rect x="826" y="205" width="3" height="6" fill="#fff"/>
<rect x="835" y="191" width="1" height="23" fill="#000"/>
<rect x="833" y="199" width="5" height="4" fill="#000"/>
<rect x="834" y="200" width="3" height="2" fill="#fff"/>
<rect x="843" y="183" width="1" height="23" fill="#000"/>
<rect x="841" y="188" width="5" height="10" fill="#000"/>
<rect x="842" y="189" width="3" height="8" fill="#fff"/>
<rect x="851" y="185" width="1" height="47" fill="#000"/>
<rect x="849" y="187" width="5" height="35" fill="#000"/>
<rect x="859" y="211" width="1" height="29" fill="#000"/>
<rect x="857" y="221" width="5" height="16" fill="#000"/>
<rect x="867" y="227" width="1" height="17" fill="#000"/>
<rect x="865" y="227" width="5" height="8" fill="#000"/>
<rect x="866" y="228" width="3" height="6" fill="#fff"/>
<rect x="875" y="214" width="1" height="19" fill="#000"/>
<rect x="873" y="227" width="5" height="4" fill="#000"/>
<rect x="883" y="225" width="1" height="14" fill="#000"/>
<rect x="881" y="230" width="5" height="5" fill="#000"/>
<rect x="891" y="212" width="1" height="26" fill="#000"/>
<rect x="889" y="213" width="5" height="22" fill="#000"/>
<rect x="890" y="214" width="3" height="20" fill="#fff"/>
<rect x="899" y="207" width="1" height="33" fill="#000"/>
<rect x="897" y="213" width="5" height="15" fill="#000"/>
<rect x="907" y="192" width="1" height="35" fill="#000"/>
<rect x="905" y="208" width="5" height="19" fill="#000"/>
<rect x="906" y="209" width="3" height="17" fill="#fff"/>
<rect x="915" y="185" width="1" height="24" fill="#000"/>
<rect x="913" y="191" width="5" height="17" fill="#000"/>
<rect x="914" y="192" width="3" height="15" fill="#fff"/>
<rect x="923" y="177" width="1" height="12" fill="#000"/>
<rect x="921" y="184" width="5" height="3" fill="#000"/>
<rect x="931" y="181" width="1" height="19" fill="#000"/>
<rect x="929" y="186" width="5" height="14" fill="#000"/>
<rect x="939" y="193" width="1" height="15" fill="#000"/>
<rect x="937" y="198" width="5" height="2" fill="#000"/>
<rect x="947" y="164" width="1" height="40" fill="#000"/>
<rect x="945" y="170" width="5" height="29" fill="#000"/>
<rect x="946" y="171" width="3" height="27" fill="#fff"/>
<rect x="955" y="154" width="1" height="31" fill="#000"/>
<rect x="953" y="169" width="5" height="2" fill="#000"/>
<rect x="963" y="163" width="1" height="41" fill="#000"/>
<rect x="961" y="170" width="5" height="27" fill="#000"/>
<rect x="971" y="189" width="1" height="23" fill="#000"/>
<rect x="969" y="194" width="5" height="3" fill="#000"/>
<rect x="970" y="195" width="3" height="1" fill="#fff"/>
<rect x="979" y="183" width="1" height="18" fill="#000"/>
<rect x="977" y="191" width="5" height="3" fill="#000"/>
<rect x="978" y="192" width="3" height="1" fill="#fff"/>
<rect x="987" y="190" width="1" height="14" fill="#000"/>
<rect x="985" y="190" width="5" height="7" fill="#000"/>
<rect x="995" y="181" width="1" height="32" fill="#000"/>
<rect x="993" y="184" width="5" height="12" fill="#000"/>
<rect x="994" y="185" width="3" height="10" fill="#fff"/>
<rect x="1003" y="144" width="1" height="44" fill="#000"/>
<rect x="1001" y="173" width="5" height="11" fill="#000"/>
<rect x="1002" y="174" width="3" height="9" fill="#fff"/>
<rect x="1011" y="139" width="1" height="34" fill="#000"/>
<rect x="1009" y="166" width="5" height="7" fill="#000"/>
<rect x="1010" y="167" width="3" height="5" fill="#fff"/>
<rect x="1019" y="162" width="1" height="24" fill="#000"/>
<rect x="1017" y="165" width="5" height="9" fill="#000"/>
<rect x="1027" y="172" width="1" height="18" fill="#000"/>
<rect x="1025" y="173" width="5" height="15" fill="#000"/>
<rect x="1035" y="176" width="1" height="12" fill="#000"/>
<rect x="1033" y="177" width="5" height="11" fill="#000"/>
<rect x="1034" y="178" width="3" height="9" fill="#fff"/>
<rect x="1043" y="174" width="1" height="20" fill="#000"/>
<rect x="1041" y="177" width="5" height="13" fill="#000"/>
<rect x="1051" y="185" width="1" height="47" fill="#000"/>
<rect x="1049" y="189" width="5" height="33" fill="#000"/>
<rect x="1059" y="212" width="1" height="29" fill="#000"/>
<rect x="1057" y="221" width="5" height="6" fill="#000"/>
<rect x="1067" y="213" width="1" height="32" fill="#000"/>
<rect x="1065" y="225" width="5" height="11" fill="#000"/>
<rect x="1075" y="230" width="1" height="14" fill="#000"/>
<rect x="1073" y="234" width="5" height="4" fill="#000"/>
<rect x="1083" y="224" width="1" height="14" fill="#000"/>
<rect x="1081" y="226" width="5" height="11" fill="#000"/>
<rect x="1082" y="227" width="3" height="9" fill="#fff"/>
<rect x="1091" y="208" width="1" height="23" fill="#000"/>
<rect x="1089" y="216" width="5" height="10" fill="#000"/>
<rect x="1090" y="217" width="3" height="8" fill="#fff"/>
<rect x="1099" y="215" width="1" height="86" fill="#000"/>
<rect x="1097" y="216" width="5" height="61" fill="#000"/>
<rect x="1107" y="233" width="1" height="48" fill="#000"/>
<rect x="1105" y="241" width="5" height="37" fill="#000"/>
<rect x="1106" y="242" width="3" height="35" fill="#fff"/>
<rect x="1115" y="237" width="1" height="17" fill="#000"/>
<rect x="1113" y="240" width="5" height="1" fill="#000"/>
<rect x="1123" y="213" width="1" height="31" fill="#000"/>
<rect x="1121" y="217" width="5" height="23" fill="#000"/>
<rect x="1122" y="218" width="3" height="21" fill="#fff"/>
<rect x="1131" y="202" width="1" height="17" fill="#000"/>
<rect x="1129" y="213" width="5" height="5" fill="#000"/>
<rect x="1130" y="214" width="3" height="3" fill="#fff"/>
<rect x="1139" y="212" width="1" height="96" fill="#000"/>
<rect x="1137" y="212" width="5" height="86" fill="#000"/>
<rect x="1147" y="259" width="1" height="59" fill="#000"/>
<rect x="1145" y="296" width="5" height="11" fill="#000"/>
<rect x="1155" y="280" width="1" height="47" fill="#000"/>
<rect x="1153" y="306" width="5" height="8" fill="#000"/>
<rect x="1163" y="307" width="1" height="14" fill="#000"/>
<rect x="1161" y="309" width="5" height="4" fill="#000"/>
<rect x="1162" y="310" width="3" height="2" fill="#fff"/>
<rect x="1171" y="294" width="1" height="14" fill="#000"/>
<rect x="1169" y="302" width="5" height="3" fill="#000"/>
<rect x="1179" y="284" width="1" height="25" fill="#000"/>
<rect x="1177" y="286" width="5" height="18" fill="#000"/>
<rect x="1178" y="287" width="3" height="16" fill="#fff"/>
<rect x="1187" y="277" width="1" height="12" fill="#000"/>
<rect x="1185" y="285" width="5" height="1" fill="#000"/>
<rect x="1195" y="264" width="1" height="27" fill="#000"/>
<rect x="1193" y="284" width="5" height="5" fill="#000"/>
<rect x="1203" y="231" width="1" height="76" fill="#000"/>
<rect x="1201" y="250" width="5" height="38" fill="#000"/>
<rect x="1202" y="251" width="3" height="36" fill="#fff"/>
<rect x="1211" y="232" width="1" height="41" fill="#000"/>
<rect x="1209" y="240" width="5" height="10" fill="#000"/>
<rect x="1210" y="241" width="3" height="8" fill="#fff"/>
<rect x="1219" y="229" width="1" height="88" fill="#000"/>
<rect x="1217" y="239" width="5" height="58" fill="#000"/>
<rect x="1227" y="291" width="1" height="26" fill="#000"/>
<rect x="1225" y="296" width="5" height="6" fill="#000"/>
<rect x="1235" y="296" width="1" height="53" fill="#000"/>
<rect x="1233" y="301" width="5" height="29" fill="#000"/>
<rect x="1243" y="298" width="1" height="60" fill="#000"/>
<rect x="1241" y="304" width="5" height="27" fill="#000"/>
<rect x="1242" y="305" width="3" height="25" fill="#fff"/>
<rect x="1251" y="271" width="1" height="57" fill="#000"/>
<rect x="1249" y="303" width="5" height="16" fill="#000"/>
<rect x="1259" y="257" width="1" height="69" fill="#000"/>
<rect x="1257" y="261" width="5" height="58" fill="#000"/>
<rect x="1258" y="262" width="3" height="56" fill="#fff"/>
<rect x="1267" y="251" width="1" height="28" fill="#000"/>
<rect x="1265" y="261" width="5" height="7" fill="#000"/>
<rect x="1275" y="253" width="1" height="23" fill="#000"/>
<rect x="1273" y="266" width="5" height="6" fill="#000"/>
<rect x="1283" y="256" width="1" height="26" fill="#000"/>
<rect x="1281" y="270" width="5" height="2" fill="#000"/>
<rect x="1291" y="260" width="1" height="45" fill="#000"/>
<rect x="1289" y="270" width="5" height="18" fill="#000"/>
<rect x="1299" y="279" width="1" height="38" fill="#000"/>
<rect x="1297" y="284" width="5" height="3" fill="#000"/>
<rect x="1298" y="285" width="3" height="1" fill="#fff"/>
<rect x="1307" y="264" width="1" height="31" fill="#000"/>
<rect x="1305" y="274" width="5" height="10" fill="#000"/>
<rect x="1306" y="275" width="3" height="8" fill="#fff"/>
<rect x="1315" y="249" width="1" height="29" fill="#000"/>
<rect x="1313" y="251" width="5" height="23" fill="#000"/>
<rect x="1314" y="252" width="3" height="21" fill="#fff"/>
<rect x="1323" y="230" width="1" height="22" fill="#000"/>
<rect x="1321" y="235" width="5" height="14" fill="#000"/>
<rect x="1322" y="236" width="3" height="12" fill="#fff"/>
<rect x="1331" y="224" width="1" height="11" fill="#000"/>
<rect x="1329" y="229" width="5" height="6" fill="#000"/>
<rect x="1330" y="230" width="3" height="4" fill="#fff"/>
<rect x="1339" y="229" width="1" height="20" fill="#000"/>
<rect x="1337" y="230" width="5" height="10" fill="#000"/>
<rect x="1347" y="238" width="1" height="23" fill="#000"/>
<rect x="1345" y="238" width="5" height="19" fill="#000"/>
<rect x="1355" y="247" width="1" height="12" fill="#000"/>
<rect x="1353" y="255" width="5" height="3" fill="#000"/>
<rect x="1354" y="256" width="3" height="1" fill="#fff"/>
<rect x="1363" y="249" width="1" height="49" fill="#000"/>
<rect x="1361" y="252" width="5" height="42" fill="#000"/>
<rect x="1371" y="292" width="1" height="81" fill="#000"/>
<rect x="1369" y="293" width="5" height="80" fill="#000"/>
<rect x="1379" y="365" width="1" height="87" fill="#000"/>
<rect x="1377" y="372" width="5" height="75" fill="#000"/>
<rect x="1387" y="447" width="1" height="52" fill="#000"/>
<rect x="1385" y="447" width="5" height="23" fill="#000"/>
<rect x="1395" y="425" width="1" height="90" fill="#000"/>
<rect x="1393" y="470" width="5" height="22" fill="#000"/>
<rect x="1403" y="446" width="1" height="98" fill="#000"/>
<rect x="1401" y="493" width="5" height="50" fill="#000"/>
<rect x="3" y="608" width="1" height="62" fill="#c0c0c0"/>
<rect x="11" y="608" width="1" height="62" fill="#c0c0c0"/>
<rect x="19" y="608" width="1" height="62" fill="#c0c0c0"/>
<rect x="27" y="607" width="1" height="63" fill="#c0c0c0"/>
<rect x="35" y="608" width="1" height="62" fill="#c0c0c0"/>
<rect x="43" y="610" width="1" height="60" fill="#c0c0c0"/>
<rect x="51" y="613" width="1" height="57" fill="#c0c0c0"/>
<rect x="59" y="610" width="1" height="60" fill="#c0c0c0"/>
<rect x="67" y="609" width="1" height="61" fill="#c0c0c0"/>
<rect x="75" y="611" width="1" height="59" fill="#c0c0c0"/>
<rect x="83" y="612" width="1" height="58" fill="#c0c0c0"/>
<rect x="91" y="615" width="1" height="55" fill="#c0c0c0"/>
<rect x="99" y="619" width="1" height="51" fill="#c0c0c0"/>
<rect x="107" y="623" width="1" height="47" fill="#c0c0c0"/>
<rect x="115" y="623" width="1" height="47" fill="#c0c0c0"/>
<rect x="123" y="624" width="1" height="46" fill="#c0c0c0"/>
<rect x="131" y="624" width="1" height="46" fill="#c0c0c0"/>
<rect x="139" y="626" width="1" height="44" fill="#c0c0c0"/>
<rect x="147" y="625" width="1" height="45" fill="#c0c0c0"/>
<rect x="155" y="628" width="1" height="42" fill="#c0c0c0"/>
<rect x="163" y="628" width="1" height="42" fill="#c0c0c0"/>
<rect x="171" y="629" width="1" height="41" fill="#c0c0c0"/>
<rect x="179" y="632" width="1" height="38" fill="#c0c0c0"/>
<rect x="187" y="632" width="1" height="38" fill="#c0c0c0"/>
<rect x="195" y="633" width="1" height="37" fill="#c0c0c0"/>
<rect x="203" y="633" width="1" height="37" fill="#c0c0c0"/>
<rect x="211" y="633" width="1" height="37" fill="#c0c0c0"/>
<rect x="219" y="633" width="1" height="37" fill="#c0c0c0"/>
<rect x="227" y="632" width="1" height="38" fill="#c0c0c0"/>
<rect x="235" y="632" width="1" height="38" fill="#c0c0c0"/>
<rect x="243" y="632" width="1" height="38" fill="#c0c0c0"/>
<rect x="251" y="632" width="1" height="38" fill="#c0c0c0"/>
<rect x="259" y="632" width="1" height="38" fill="#c0c0c0"/>
<rect x="267" y="634" width="1" height="36" fill="#c0c0c0"/>
<rect x="275" y="635" width="1" height="35" fill="#c0c0c0"/>
<rect x="283" y="638" width="1" height="32" fill="#c0c0c0"/>
<rect x="291" y="639" width="1" height="31" fill="#c0c0c0"/>
<rect x="299" y="641" width="1" height="29" fill="#c0c0c0"/>
<rect x="307" y="647" width="1" height="23" fill="#c0c0c0"/>
<rect x="315" y="655" width="1" height="15" fill="#c0c0c0"/>
<rect x="323" y="660" width="1" height="10" fill="#c0c0c0"/>
<rect x="331" y="664" width="1" height="6" fill="#c0c0c0"/>
<rect x="339" y="668" width="1" height="2" fill="#c0c0c0"/>
<rect x="347" y="669" width="1" height="2" fill="#c0c0c0"/>
<rect x="355" y="669" width="1" height="2" fill="#c0c0c0"/>
<rect x="363" y="668" width="1" height="2" fill="#c0c0c0"/>
<rect x="371" y="666" width="1" height="4" fill="#c0c0c0"/>
<rect x="379" y="664" width="1" height="6" fill="#c0c0c0"/>
<rect x="387" y="666" width="1" height="4" fill="#c0c0c0"/>
<rect x="395" y="666" width="1" height="4" fill="#c0c0c0"/>
<rect x="403" y="663" width="1" height="7" fill="#c0c0c0"/>
<rect x="411" y="660" width="1" height="10" fill="#c0c0c0"/>
<rect x="419" y="657" width="1" height="13" fill="#c0c0c0"/>
<rect x="427" y="652" width="1" height="18" fill="#c0c0c0"/>
<rect x="435" y="650" width="1" height="20" fill="#c0c0c0"/>
<rect x="443" y="648" width="1" height="22" fill="#c0c0c0"/>
<rect x="451" y="645" width="1" height="25" fill="#c0c0c0"/>
<rect x="459" y="646" width="1" height="24" fill="#c0c0c0"/>
<rect x="467" y="645" width="1" height="25" fill="#c0c0c0"/>
<rect x="475" y="646" width="1" height="24" fill="#c0c0c0"/>
<rect x="483" y="648" width="1" height="22" fill="#c0c0c0"/>
<rect x="491" y="647" width="1" height="23" fill="#c0c0c0"/>
<rect x="499" y="647" width="1" height="23" fill="#c0c0c0"/>
<rect x="507" y="645" width="1" height="25" fill="#c0c0c0"/>
<rect x="515" y="643" width="1" height="27" fill="#c0c0c0"/>
<rect x="523" y="642" width="1" height="28" fill="#c0c0c0"/>
<rect x="531" y="642" width="1" height="28" fill="#c0c0c0"/>
<rect x="539" y="642" width="1" height="28" fill="#c0c0c0"/>
<rect x="547" y="642" width="1" height="28" fill="#c0c0c0"/>
<rect x="555" y="644" width="1" height="26" fill="#c0c0c0"/>
<rect x="563" y="642" width="1" height="28" fill="#c0c0c0"/>
<rect x="571" y="638" width="1" height="32" fill="#c0c0c0"/>
<rect x="579" y="638" width="1" height="32" fill="#c0c0c0"/>
<rect x="587" y="637" width="1" height="33" fill="#c0c0c0"/>
<rect x="595" y="637" width="1" height="33" fill="#c0c0c0"/>
<rect x="603" y="640" width="1" height="30" fill="#c0c0c0"/>
<rect x="611" y="640" width="1" height="30" fill="#c0c0c0"/>
<rect x="619" y="641" width="1" height="29" fill="#c0c0c0"/>
<rect x="627" y="642" width="1" height="28" fill="#c0c0c0"/>
<rect x="635" y="645" width="1" height="25" fill="#c0c0c0"/>
<rect x="643" y="644" width="1" height="26" fill="#c0c0c0"/>
<rect x="651" y="640" width="1" height="30" fill="#c0c0c0"/>
<rect x="659" y="637" width="1" height="33" fill="#c0c0c0"/>
<rect x="667" y="636" width="1" height="34" fill="#c0c0c0"/>
<rect x="675" y="635" width="1" height="35" fill="#c0c0c0"/>
<rect x="683" y="635" width="1" height="35" fill="#c0c0c0"/>
<rect x="691" y="635" width="1" height="35" fill="#c0c0c0"/>
<rect x="699" y="633" width="1" height="37" fill="#c0c0c0"/>
<rect x="707" y="631" width="1" height="39" fill="#c0c0c0"/>
<rect x="715" y="629" width="1" height="41" fill="#c0c0c0"/>
<rect x="723" y="630" width="1" height="40" fill="#c0c0c0"/>
<rect x="731" y="633" width="1" height="37" fill="#c0c0c0"/>
<rect x="739" y="635" width="1" height="35" fill="#c0c0c0"/>
<rect x="747" y="636" width="1" height="34" fill="#c0c0c0"/>
<rect x="755" y="640" width="1" height="30" fill="#c0c0c0"/>
<rect x="763" y="644" width="1" height="26" fill="#c0c0c0"/>
<rect x="771" y="647" width="1" height="23" fill="#c0c0c0"/>
<rect x="779" y="652" width="1" height="18" fill="#c0c0c0"/>
<rect x="787" y="653" width="1" height="17" fill="#c0c0c0"/>
<rect x="795" y="656" width="1" height="14" fill="#c0c0c0"/>
<rect x="803" y="657" width="1" height="13" fill="#c0c0c0"/>
<rect x="811" y="664" width="1" height="6" fill="#c0c0c0"/>
<rect x="827" y="669" width="1" height="4" fill="#c0c0c0"/>
<rect x="835" y="669" width="1" height="6" fill="#c0c0c0"/>
<rect x="843" y="669" width="1" height="6" fill="#c0c0c0"/>
<rect x="851" y="669" width="1" height="10" fill="#c0c0c0"/>
<rect x="859" y="669" width="1" height="15" fill="#c0c0c0"/>
<rect x="867" y="669" width="1" height="17" fill="#c0c0c0"/>
<rect x="875" y="669" width="1" height="19" fill="#c0c0c0"/>
<rect x="883" y="669" width="1" height="21" fill="#c0c0c0"/>
<rect x="891" y="669" width="1" height="20" fill="#c0c0c0"/>
<rect x="899" y="669" width="1" height="21" fill="#c0c0c0"/>
<rect x="907" y="669" width="1" height="18" fill="#c0c0c0"/>
<rect x="915" y="669" width="1" height="15" fill="#c0c0c0"/>
<rect x="923" y="669" width="1" height="12" fill="#c0c0c0"/>
<rect x="931" y="669" width="1" height="10" fill="#c0c0c0"/>
<rect x="939" y="669" width="1" height="8" fill="#c0c0c0"/>
<rect x="947" y="669" width="1" height="5" fill="#c0c0c0"/>
<rect x="955" y="669" width="1" height="2" fill="#c0c0c0"/>
<rect x="979" y="669" width="1" height="2" fill="#c0c0c0"/>
<rect x="987" y="669" width="1" height="2" fill="#c0c0c0"/>
<rect x="1003" y="667" width="1" height="3" fill="#c0c0c0"/>
<rect x="1011" y="665" width="1" height="5" fill="#c0c0c0"/>
<rect x="1019" y="664" width="1" height="6" fill="#c0c0c0"/>
<rect x="1027" y="665" width="1" height="5" fill="#c0c0c0"/>
<rect x="1035" y="664" width="1" height="6" fill="#c0c0c0"/>
<rect x="1043" y="665" width="1" height="5" fill="#c0c0c0"/>
<rect x="1051" y="669" width="1" height="2" fill="#c0c0c0"/>
<rect x="1059" y="669" width="1" height="5" fill="#c0c0c0"/>
<rect x="1067" y="669" width="1" height="9" fill="#c0c0c0"/>
<rect x="1075" y="669" width="1" height="12" fill="#c0c0c0"/>
<rect x="1083" y="669" width="1" height="13" fill="#c0c0c0"/>
<rect x="1091" y="669" width="1" height="13" fill="#c0c0c0"/>
<rect x="1099" y="669" width="1" height="19" fill="#c0c0c0"/>
<rect x="1107" y="669" width="1" height="20" fill="#c0c0c0"/>
<rect x="1115" y="669" width="1" height="20" fill="#c0c0c0"/>
<rect x="1123" y="669" width="1" height="18" fill="#c0c0c0"/>
<rect x="1131" y="669" width="1" height="15" fill="#c0c0c0"/>
<rect x="1139" y="669" width="1" height="22" fill="#c0c0c0"/>
<rect x="1147" y="669" width="1" height="28" fill="#c0c0c0"/>
<rect x="1155" y="669" width="1" height="33" fill="#c0c0c0"/>
<rect x="1163" y="669" width="1" height="37" fill="#c0c0c0"/>
<rect x="1171" y="669" width="1" height="38" fill="#c0c0c0"/>
<rect x="1179" y="669" width="1" height="37" fill="#c0c0c0"/>
<rect x="1187" y="669" width="1" height="35" fill="#c0c0c0"/>
<rect x="1195" y="669" width="1" height="35" fill="#c0c0c0"/>
<rect x="1203" y="669" width="1" height="28" fill="#c0c0c0"/>
<rect x="1211" y="669" width="1" height="24" fill="#c0c0c0"/>
<rect x="1219" y="669" width="1" height="25" fill="#c0c0c0"/>
<rect x="1227" y="669" width="1" height="26" fill="#c0c0c0"/>
<rect x="1235" y="669" width="1" height="30" fill="#c0c0c0"/>
<rect x="1243" y="669" width="1" height="30" fill="#c0c0c0"/>
<rect x="1251" y="669" width="1" height="30" fill="#c0c0c0"/>
<rect x="1259" y="669" width="1" height="26" fill="#c0c0c0"/>
<rect x="1267" y="669" width="1" height="22" fill="#c0c0c0"/>
<rect x="1275" y="669" width="1" height="19" fill="#c0c0c0"/>
<rect x="1283" y="669" width="1" height="16" fill="#c0c0c0"/>
<rect x="1291" y="669" width="1" height="16" fill="#c0c0c0"/>
<rect x="1299" y="669" width="1" height="15" fill="#c0c0c0"/>
<rect x="1307" y="669" width="1" height="13" fill="#c0c0c0"/>
<rect x="1315" y="669" width="1" height="9" fill="#c0c0c0"/>
<rect x="1323" y="669" width="1" height="4" fill="#c0c0c0"/>
<rect x="1331" y="668" width="1" height="2" fill="#c0c0c0"/>
<rect x="1339" y="666" width="1" height="4" fill="#c0c0c0"/>
<rect x="1347" y="666" width="1" height="4" fill="#c0c0c0"/>
<rect x="1355" y="665" width="1" height="5" fill="#c0c0c0"/>
<rect x="1363" y="669" width="1" height="2" fill="#c0c0c0"/>
<rect x="1371" y="669" width="1" height="11" fill="#c0c0c0"/>
<rect x="1379" y="669" width="1" height="29" fill="#c0c0c0"/>
<rect x="1387" y="669" width="1" height="45" fill="#c0c0c0"/>
<rect x="1395" y="669" width="1" height="53" fill="#c0c0c0"/>
<rect x="1403" y="669" width="1" height="74" fill="#c0c0c0"/>
<path d="M869 674.5h3M977 674.5h3M989 672.5h3M1091 672.5h2M191 628.5h3M197 628.5h3M1235 699.5h3M1241 699.5h2M611 638.5h3M617 638.5h3M623 638.5h3M629 638.5h3M635 638.5h3M683 638.5h3M780 638.5h2M395 666.5h3M401 666.5h3M851 666.5h2M1031 666.5h3M1037 666.5h3M1043 666.5h3M1049 666.5h3M1055 666.5h3M1061 666.5h3M1025 667.5h3M1067 667.5h3M318 639.5h2M593 639.5h3M599 639.5h3M605 639.5h3M641 639.5h3M659 639.5h3M665 639.5h3M671 639.5h3M677 639.5h3M576 640.5h2M581 640.5h3M587 640.5h3M648 640.5h2M653 640.5h3M785 640.5h3M161 623.5h3M515 645.5h3M521 645.5h3M173 625.5h3M875 676.5h2M1385 676.5h2M1247 698.5h3M906 685.5h2M929 685.5h3M1139 685.5h3M1205 701.5h3M1211 701.5h3M1217 701.5h3M1223 701.5h2M144 620.5h2M863 671.5h2M995 671.5h3M1361 671.5h3M1367 671.5h3M1373 671.5h2M887 680.5h3M953 680.5h3M1115 680.5h3M1392 680.5h2M1127 682.5h3M1325 682.5h2M858 669.5h2M1013 669.5h3M1080 669.5h2M125 615.5h2M35 608.5h3M41 608.5h3M47 608.5h3M53 608.5h3M59 608.5h3M65 608.5h3M71 608.5h3M77 608.5h3M95 611.5h3M701 636.5h3M773 636.5h3M935 684.5h3M1133 684.5h3M1319 684.5h2M881 679.5h3M959 679.5h2M1109 679.5h3M1331 679.5h3M983 673.5h3M1355 673.5h3M1380 673.5h2M432 659.5h2M834 659.5h2M1157 690.5h3M1302 690.5h2M413 664.5h3M312 637.5h2M690 637.5h2M695 637.5h3M294 634.5h2M299 634.5h3M713 634.5h3M719 634.5h2M761 634.5h3M912 686.5h2M917 686.5h3M923 686.5h3M1313 686.5h2M228 631.5h2M233 631.5h3M239 631.5h3M245 631.5h3M251 631.5h3M257 631.5h3M263 631.5h3M179 626.5h3M971 675.5h3M1098 675.5h2M1349 675.5h2M965 677.5h3M1103 677.5h3M1343 677.5h2M1151 688.5h3M270 632.5h2M275 632.5h3M281 632.5h3M731 632.5h3M737 632.5h3M743 632.5h3M749 632.5h3M149 621.5h3M840 662.5h2M204 629.5h2M209 629.5h3M215 629.5h3M384 665.5h2M389 665.5h3M407 665.5h3M371 661.5h3M425 661.5h3M1181 696.5h3M1259 696.5h3M305 635.5h3M707 635.5h3M767 635.5h3M330 644.5h2M528 644.5h2M533 644.5h3M539 644.5h3M545 644.5h3M798 644.5h2M336 647.5h2M485 647.5h3M491 647.5h3M1194 700.5h2M1199 700.5h2M1229 700.5h3M107 613.5h3M113 613.5h3M83 609.5h3M1163 691.5h3M1296 691.5h2M497 646.5h3M503 646.5h3M509 646.5h3M803 646.5h2M1175 695.5h3M1265 695.5h3M287 633.5h3M725 633.5h3M755 633.5h3M1001 670.5h3M1007 670.5h2M1085 670.5h3M563 642.5h3M791 642.5h3M1019 668.5h3M1073 668.5h3M378 663.5h2M419 663.5h2M845 663.5h2M479 648.5h3M893 681.5h2M1121 681.5h3M551 643.5h3M557 643.5h3M131 617.5h3M185 627.5h3M467 651.5h3M815 651.5h3M101 612.5h3M167 624.5h3M365 660.5h3M348 653.5h2M456 653.5h2M821 653.5h2M474 649.5h2M810 649.5h2M354 656.5h2M827 656.5h2M137 618.5h3M1187 697.5h3M1253 697.5h3M119 614.5h3M359 658.5h2M437 658.5h3M1272 694.5h2M1277 694.5h3M1337 678.5h3M461 652.5h3M443 657.5h2M89 610.5h3M155 622.5h3M323 641.5h3M569 641.5h3M449 655.5h3M1169 693.5h2M1283 693.5h3M221 630.5h3M342 650.5h2M1307 689.5h2M899 683.5h3M942 683.5h2M947 683.5h2M1289 692.5h3M1146 687.5h2M1097.5 674v1M1351.5 674v1M865.5 672v1M1375.5 672v1M1379.5 672v1M203.5 628v1M1193.5 699v1M317.5 638v1M689.5 638v1M853.5 667v1M647.5 639v1M527.5 645v1M1345.5 676v1M1243.5 698v1M911.5 685v1M1315.5 685v1M1397.5 685v1M1201.5 701v1M895.5 682v1M949.5 682v1M1009.5 669v1M311.5 636v1M905.5 684v1M941.5 684v1M1396.5 684v1M1391.5 679v1M1093.5 673v1M361.5 659v1M1401.5 690v1M383.5 664v1M847.5 664v1M779.5 637v1M1145.5 686v1M1398.5 686v1M269.5 631v1M877.5 677v1M1387.5 677v1M1309.5 688v1M377.5 662v1M421.5 662v1M839.5 661v1M805.5 647v1M1225.5 700v1M1301.5 691v1M1402.5 691v1M335.5 646v1M1271.5 695v1M293.5 633v1M721.5 633v1M857.5 668v1M1079.5 668v1M809.5 648v1M1327.5 681v1M329.5 643v1M797.5 643v1M431.5 660v1M341.5 649v1M455.5 654v1M823.5 654v1M445.5 656v1M833.5 658v1M1171.5 694v1M961.5 678v1M347.5 652v1M829.5 657v1M575.5 641v1M353.5 655v1M227.5 630v1M473.5 650v1M127.5 616v1M1321.5 683v1M1295.5 692v1M1403.5 692v1M143.5 619v1" fill="none" stroke="#ff0000" stroke-width="1"/>
<line x1="0" y1="788.5" x2="1646" y2="788.5" stroke="#c0c0c0" stroke-width="1" stroke-dasharray="3 3"/>
<line x1="0" y1="839.5" x2="1646" y2="839.5" stroke="#c0c0c0" stroke-width="1" stroke-dasharray="3 3"/>
<line x1="0" y1="900.5" x2="1646" y2="900.5" stroke="#c0c0c0" stroke-width="1" stroke-dasharray="3 3"/>
<path d="M174 820.5h2M269 820.5h3M278 820.5h2M286 820.5h2M408 820.5h2M467 820.5h3M548 820.5h2M737 820.5h2M182 821.5h2M267 821.5h2M465 821.5h2M470 821.5h4M497 821.5h2M550 821.5h2M608 821.5h2M622 821.5h2M735 821.5h2M373 830.5h3M1001 830.5h2M1017 830.5h2M272 819.5h2M276 819.5h2M500 819.5h2M546 819.5h2M611 819.5h5M739 819.5h2M92 813.5h2M163 813.5h2M207 813.5h2M437 813.5h3M508 813.5h2M520 813.5h2M586 813.5h6M281 822.5h2M463 822.5h2M474 822.5h2M495 822.5h2M733 822.5h2M167 815.5h2M202 815.5h3M442 815.5h2M523 815.5h2M579 815.5h3M1072 862.5h4M376 831.5h2M1316 831.5h2M825 853.5h2M1084 853.5h2M1243 853.5h2M387 837.5h2M1030 837.5h2M1207 837.5h2M1347 837.5h5M936 840.5h4M968 840.5h6M984 840.5h2M1128 840.5h2M1270 840.5h4M1280 840.5h4M392 835.5h2M760 835.5h2M768 835.5h4M920 835.5h4M1033 835.5h2M1036 835.5h2M88 810.5h2M119 810.5h2M221 810.5h3M431 810.5h2M513 810.5h2M516 810.5h2M674 810.5h4M42 806.5h3M80 806.5h4M239 806.5h2M563 806.5h5M657 806.5h2M931 841.5h5M963 841.5h5M986 841.5h2M1125 841.5h3M1274 841.5h6M1284 841.5h2M1305 841.5h2M1123 842.5h2M45 807.5h3M75 807.5h5M84 807.5h2M237 807.5h2M48 808.5h2M115 808.5h2M128 808.5h2M226 808.5h11M427 808.5h2M450 808.5h2M660 808.5h2M323 850.5h5M336 850.5h12M834 850.5h2M1088 850.5h2M140 812.5h2M209 812.5h2M435 812.5h2M510 812.5h2M667 812.5h3M682 812.5h6M363 829.5h10M1003 829.5h2M627 825.5h3M1328 825.5h5M50 809.5h2M117 809.5h2M134 809.5h2M144 809.5h2M224 809.5h2M429 809.5h2M662 809.5h2M1152 869.5h8M862 860.5h2M882 860.5h2M1064 860.5h2M1230 860.5h2M385 836.5h2M389 836.5h3M762 836.5h6M915 836.5h5M924 836.5h2M1209 836.5h3M1352 836.5h4M64 797.5h4M857 861.5h2M860 861.5h2M1066 861.5h6M867 857.5h5M1054 857.5h4M1192 857.5h4M1226 857.5h2M22 800.5h4M29 800.5h2M706 800.5h10M1139 866.5h3M1168 866.5h2M811 856.5h10M1051 856.5h3M1179 856.5h13M1222 856.5h4M1250 856.5h2M827 852.5h3M896 852.5h2M1107 852.5h9M404 823.5h2M461 823.5h2M493 823.5h2M553 823.5h3M731 823.5h2M94 814.5h2M165 814.5h2M205 814.5h2M440 814.5h2M582 814.5h4M592 814.5h4M121 811.5h2M124 811.5h2M211 811.5h10M433 811.5h2M665 811.5h2M670 811.5h4M678 811.5h4M688 811.5h4M382 834.5h2M394 834.5h2M757 834.5h3M802 834.5h2M952 828.5h4M1005 828.5h3M1014 828.5h2M1320 828.5h2M1338 828.5h2M104 818.5h4M274 818.5h2M411 818.5h3M530 818.5h4M544 818.5h2M616 818.5h4M741 818.5h2M3 802.5h13M33 802.5h2M250 802.5h3M701 802.5h3M99 817.5h5M187 817.5h11M414 817.5h4M528 817.5h2M534 817.5h4M541 817.5h3M743 817.5h2M928 839.5h2M974 839.5h4M981 839.5h3M1130 839.5h2M1203 839.5h2M1264 839.5h6M37 804.5h3M243 804.5h3M256 804.5h2M653 804.5h2M1146 868.5h6M1160 868.5h5M1296 845.5h4M1390 887.5h4M35 803.5h2M246 803.5h4M253 803.5h3M651 803.5h2M699 803.5h2M823 854.5h2M1245 854.5h3M1302 843.5h2M1142 867.5h4M1165 867.5h3M840 846.5h2M1291 846.5h5M634 827.5h2M947 827.5h5M1008 827.5h2M1012 827.5h2M1336 827.5h2M836 849.5h2M892 849.5h2M1090 849.5h2M852 858.5h2M865 858.5h2M872 858.5h6M1058 858.5h3M40 805.5h2M241 805.5h2M258 805.5h2M568 805.5h4M655 805.5h2M978 838.5h3M990 838.5h2M1028 838.5h2M1040 838.5h2M1205 838.5h2M1259 838.5h5M16 801.5h6M31 801.5h2M704 801.5h2M328 851.5h8M830 851.5h4M630 826.5h4M1010 826.5h2M1323 826.5h5M1333 826.5h3M854 859.5h2M878 859.5h4M1061 859.5h3M59 796.5h5M459 824.5h2M491 824.5h2M604 824.5h2M1386 886.5h4M97 816.5h2M169 816.5h2M198 816.5h4M418 816.5h2M504 816.5h2M525 816.5h3M538 816.5h3M745 816.5h3M380 833.5h2M755 833.5h2M996 833.5h2M1288 844.5h2M1300 844.5h2M821 855.5h2M1219 855.5h3M1248 855.5h2M1384 885.5h2M1170 865.5h2M378 832.5h2M998 832.5h2M1381 884.5h3M1379 883.5h2M26 799.5h3M1394 888.5h2M154.5 819v2M156.5 820v1M184.5 820v1M266.5 819v2M295.5 820v2M457.5 819v2M499.5 820v1M557.5 819v2M599.5 819v2M610.5 820v1M621.5 820v1M641.5 819v2M729.5 820v1M749.5 819v2M155.5 821v1M176.5 821v1M280.5 821v1M285.5 821v1M407.5 821v1M458.5 821v2M556.5 821v2M600.5 821v1M640.5 821v1M730.5 821v2M750.5 821v2M1097.5 864v3M1102.5 863v3M1138.5 861v4M1172.5 864v1M1235.5 864v1M1367.5 863v3M301.5 829v3M362.5 830v2M398.5 830v1M481.5 829v2M485.5 830v1M754.5 830v2M945.5 830v2M956.5 829v2M1318.5 830v1M1341.5 830v1M157.5 819v1M173.5 819v1M185.5 819v1M288.5 819v1M294.5 819v1M410.5 819v1M620.5 819v1M728.5 819v1M111.5 813v1M139.5 813v1M150.5 812v2M263.5 813v2M422.5 813v1M445.5 813v1M454.5 813v2M560.5 812v2M577.5 812v2M645.5 813v2M724.5 813v2M177.5 822v1M181.5 822v1M284.5 822v1M296.5 822v1M406.5 822v1M552.5 822v1M601.5 822v1M607.5 822v1M624.5 822v1M639.5 822v1M96.5 815v1M109.5 815v2M152.5 815v2M161.5 815v1M264.5 815v2M420.5 815v1M455.5 815v2M506.5 815v1M559.5 814v3M596.5 815v2M644.5 815v2M725.5 815v1M747.5 815v1M859.5 862v1M1096.5 861v3M1103.5 861v2M1174.5 862v1M1233.5 862v1M1236.5 862v2M1366.5 861v2M397.5 831v2M482.5 831v1M484.5 831v1M957.5 831v2M1000.5 831v1M1019.5 831v1M1342.5 831v1M312.5 853v1M320.5 853v1M810.5 852v3M849.5 853v2M888.5 852v2M898.5 853v1M900.5 853v1M1049.5 852v2M1093.5 853v3M1107.5 853v1M1135.5 851v4M1197.5 852v2M1218.5 852v2M1252.5 853v2M1362.5 852v2M304.5 837v2M357.5 837v1M773.5 837v2M784.5 837v2M791.5 837v1M799.5 837v1M804.5 835v3M914.5 837v1M926.5 837v1M941.5 836v2M961.5 837v2M992.5 837v1M1025.5 837v1M1039.5 837v1M1212.5 837v2M1310.5 837v1M1355.5 837v1M305.5 839v3M355.5 840v1M775.5 840v1M782.5 840v2M794.5 840v1M796.5 840v1M805.5 838v3M911.5 840v1M930.5 840v1M962.5 839v2M988.5 840v1M1043.5 840v2M1131.5 840v1M1203.5 840v1M1213.5 839v3M1258.5 840v2M1307.5 840v1M1357.5 840v2M303.5 834v3M359.5 834v2M384.5 835v1M786.5 834v2M789.5 835v1M801.5 835v1M942.5 835v1M959.5 834v2M994.5 835v1M1023.5 835v1M1211.5 835v1M1312.5 835v1M1345.5 835v1M113.5 810v2M126.5 810v1M136.5 810v1M143.5 810v1M149.5 810v2M261.5 809v2M425.5 810v1M448.5 810v1M452.5 809v2M561.5 810v2M575.5 810v1M647.5 810v1M664.5 810v1M692.5 810v1M722.5 810v2M53.5 805v2M74.5 806v1M131.5 806v1M259.5 806v1M572.5 806v1M649.5 806v2M696.5 806v1M719.5 806v1M354.5 841v1M776.5 841v1M795.5 841v1M806.5 841v3M910.5 841v1M1132.5 841v4M1202.5 841v2M306.5 842v2M353.5 842v2M777.5 842v2M781.5 842v1M909.5 842v1M1044.5 842v2M1214.5 842v2M1257.5 842v2M1286.5 842v1M1304.5 842v1M1358.5 842v3M52.5 807v2M130.5 807v1M132.5 807v1M147.5 807v1M260.5 807v2M451.5 807v1M563.5 807v1M573.5 807v2M659.5 807v1M695.5 807v1M720.5 807v2M86.5 808v1M133.5 808v1M146.5 808v1M148.5 808v2M562.5 808v2M648.5 808v2M694.5 808v1M310.5 850v1M809.5 849v3M847.5 850v2M890.5 849v2M894.5 850v1M902.5 850v1M1048.5 850v2M1092.5 850v3M1117.5 849v2M1134.5 848v3M1198.5 850v2M1217.5 849v3M1254.5 849v2M1361.5 850v2M91.5 812v1M112.5 812v1M123.5 812v1M138.5 812v1M262.5 811v2M423.5 812v1M446.5 812v1M453.5 811v2M519.5 812v1M646.5 811v2M723.5 812v1M399.5 829v1M486.5 829v1M753.5 828v2M946.5 828v2M1016.5 829v1M1319.5 829v1M1340.5 829v1M299.5 825v2M402.5 825v1M477.5 824v2M490.5 825v1M603.5 825v1M637.5 824v2M751.5 823v3M87.5 809v1M114.5 809v1M127.5 809v1M426.5 809v1M449.5 809v1M515.5 809v1M574.5 809v1M693.5 809v1M721.5 809v1M1098.5 867v3M1100.5 868v2M1369.5 868v2M856.5 860v1M1077.5 860v1M1095.5 859v2M1104.5 858v3M1137.5 858v3M1175.5 860v2M1238.5 860v1M1365.5 859v2M358.5 836v1M772.5 836v1M785.5 836v1M790.5 836v1M800.5 836v1M960.5 836v1M993.5 836v1M1024.5 836v1M1032.5 836v1M1038.5 836v1M1311.5 836v1M1346.5 836v1M58.5 797v2M1076.5 861v1M1232.5 861v1M1237.5 861v1M314.5 856v2M316.5 857v1M851.5 857v1M885.5 857v1M1080.5 857v1M1094.5 856v3M1105.5 856v2M1136.5 855v3M1178.5 857v1M1240.5 857v1M1364.5 857v2M57.5 799v2M69.5 799v2M1101.5 866v2M1368.5 866v2M317.5 856v1M850.5 855v2M886.5 855v2M1081.5 856v1M1195.5 856v1M1241.5 856v1M1363.5 854v3M311.5 851v2M321.5 852v1M848.5 852v1M901.5 851v2M1086.5 852v1M1253.5 851v2M178.5 823v1M180.5 823v1M283.5 823v1M297.5 823v1M459.5 823v1M476.5 823v1M602.5 823v2M606.5 823v1M625.5 823v1M638.5 823v1M110.5 814v1M151.5 814v1M162.5 814v1M421.5 814v1M444.5 814v1M507.5 814v1M522.5 814v1M578.5 814v1M90.5 811v1M137.5 811v1M142.5 811v1M424.5 811v1M447.5 811v1M512.5 811v1M518.5 811v1M576.5 811v1M788.5 834v1M943.5 833v2M995.5 834v1M1022.5 834v1M1035.5 834v1M1313.5 834v1M1344.5 834v1M300.5 827v2M400.5 828v1M480.5 828v1M487.5 828v1M153.5 817v2M158.5 818v1M172.5 818v1M186.5 818v1M265.5 817v2M289.5 818v1M293.5 818v1M456.5 817v2M502.5 818v1M558.5 817v2M598.5 818v1M642.5 818v1M727.5 817v2M748.5 817v2M55.5 802v2M71.5 802v1M716.5 801v2M108.5 817v1M159.5 817v1M171.5 817v1M290.5 817v1M292.5 817v1M503.5 817v1M597.5 817v1M643.5 817v1M356.5 838v2M774.5 839v1M783.5 839v1M793.5 839v1M797.5 839v1M912.5 839v1M940.5 838v2M989.5 839v1M1027.5 839v1M1042.5 839v1M1259.5 839v1M1308.5 839v1M1356.5 838v2M1.5 804v1M54.5 804v1M73.5 804v2M650.5 804v2M698.5 804v1M718.5 804v2M307.5 844v2M351.5 845v1M779.5 845v1M807.5 844v2M842.5 845v1M844.5 845v2M906.5 845v1M1045.5 844v2M1121.5 844v2M1133.5 845v3M1200.5 845v2M1215.5 844v3M1256.5 844v2M1290.5 845v1M1359.5 845v2M309.5 848v2M349.5 847v2M808.5 846v3M838.5 848v1M845.5 847v2M891.5 848v1M904.5 848v1M1047.5 848v2M1091.5 848v1M1118.5 848v1M1199.5 847v3M1216.5 847v2M1255.5 846v3M1360.5 847v3M2.5 803v1M72.5 803v1M717.5 803v1M313.5 854v2M319.5 854v1M887.5 854v1M899.5 854v1M1050.5 854v2M1083.5 854v1M1106.5 854v2M1196.5 854v2M1219.5 854v1M1242.5 854v2M780.5 843v2M908.5 843v1M1122.5 843v1M1201.5 843v2M1287.5 843v1M1371.5 872v2M1372.5 874v1M308.5 846v2M350.5 846v1M905.5 846v2M1046.5 846v2M1120.5 846v1M401.5 826v2M479.5 827v1M488.5 827v1M752.5 826v2M1322.5 827v1M348.5 849v1M846.5 849v1M903.5 849v1M315.5 858v1M884.5 858v2M1079.5 858v1M1177.5 858v1M1228.5 858v1M1239.5 858v2M0.5 805v1M697.5 805v1M839.5 847v1M1119.5 847v1M792.5 838v1M798.5 838v1M913.5 838v1M927.5 838v1M1026.5 838v1M1309.5 838v1M56.5 801v1M70.5 801v1M322.5 851v1M889.5 851v1M895.5 851v1M1087.5 851v1M1116.5 851v1M478.5 826v1M489.5 826v1M636.5 826v1M1099.5 870v2M1370.5 870v2M1373.5 875v2M864.5 859v1M1078.5 859v1M1176.5 859v1M1229.5 859v1M1374.5 877v1M179.5 824v1M298.5 824v1M403.5 824v1M555.5 824v1M626.5 824v1M1396.5 889v2M160.5 816v1M291.5 816v1M726.5 816v1M302.5 832v2M360.5 833v1M396.5 833v1M787.5 833v1M803.5 833v1M958.5 833v1M1021.5 833v1M1314.5 833v1M1343.5 832v2M1376.5 879v1M352.5 844v1M778.5 844v1M843.5 844v1M907.5 844v1M318.5 855v1M811.5 855v1M1082.5 855v1M1251.5 855v1M1378.5 882v1M1139.5 865v1M1173.5 863v1M1234.5 863v1M1400.5 895v1M361.5 832v1M483.5 832v1M755.5 832v1M944.5 832v1M1020.5 832v1M1315.5 832v1M1398.5 892v1M1402.5 897v2M1375.5 878v1M1377.5 880v2M1401.5 896v1M1403.5 899v1M68.5 798v1M1399.5 893v2M1397.5 891v1" fill="none" stroke="#1a8cff" stroke-width="1"/>
<rect x="0" y="25" width="1647" height="1" fill="#000"/>
<rect x="0" y="592" width="1647" height="1" fill="#000"/>
<rect x="0" y="594" width="1647" height="1" fill="#000"/>
<rect x="0" y="750" width="1647" height="1" fill="#000"/>
<rect x="0" y="752" width="1647" height="1" fill="#000"/>
<rect x="0" y="926" width="1647" height="1" fill="#000"/>
<rect x="1646" y="25" width="1" height="568" fill="#000"/>
<rect x="1646" y="594" width="1" height="157" fill="#000"/>
<rect x="1646" y="752" width="1" height="175" fill="#000"/>
<rect x="1641" y="477" width="5" height="5" fill="#ff0000"/>
<rect x="1642" y="478" width="3" height="3" fill="#fff"/>
<rect x="1641" y="504" width="5" height="5" fill="#ff0000"/>
<rect x="1642" y="505" width="3" height="3" fill="#fff"/>
<rect x="1641" y="524" width="5" height="5" fill="#32cd32"/>
<rect x="1642" y="525" width="3" height="3" fill="#fff"/>
<rect x="1641" y="560" width="5" height="5" fill="#0000ff"/>
<rect x="1642" y="561" width="3" height="3" fill="#fff"/>
<rect x="1641" y="583" width="5" height="5" fill="#0000ff"/>
<rect x="1642" y="584" width="3" height="3" fill="#fff"/>
<line x1="1333" y1="226.5" x2="1424.1" y2="577.9" stroke="#ff0000" stroke-width="3.0"/>
<path d="M1426.8,569.5 L1424.9,580.8 L1417.7,571.8" fill="#ff0000" stroke="#ff0000" stroke-width="2.6" stroke-linejoin="round" stroke-linecap="butt"/>
<line x1="1364.5" y1="656" x2="1404.9" y2="747.4" stroke="#ff0000" stroke-width="3.0"/>
<path d="M1406.1,738.6 L1406.1,750.1 L1397.6,742.4" fill="#ff0000" stroke="#ff0000" stroke-width="2.6" stroke-linejoin="round" stroke-linecap="butt"/>
<line x1="1336.5" y1="825.5" x2="1405.2" y2="900.0" stroke="#ff0000" stroke-width="3.0"/>
<path d="M1403.6,891.3 L1407.3,902.2 L1396.7,897.7" fill="#ff0000" stroke="#ff0000" stroke-width="2.6" stroke-linejoin="round" stroke-linecap="butt"/>
<rect x="1363" y="519" width="96" height="10" fill="#00ff00"/>
<rect x="940.5" y="130.5" width="61" height="18" fill="#fff" stroke="#ff0000" stroke-width="1"/>
<text x="971.0" y="145.3" text-anchor="middle" fill="#ff0000" style="font-family:&quot;Liberation Sans&quot;,sans-serif;font-size:16px;letter-spacing:-0.1px" shape-rendering="geometricPrecision">36235.0</text>
<rect x="1002" y="139" width="9" height="1" fill="#ff0000"/>
<rect x="1260.5" y="215.5" width="61" height="18" fill="#fff" stroke="#ff0000" stroke-width="1"/>
<text x="1291.0" y="230.3" text-anchor="middle" fill="#ff0000" style="font-family:&quot;Liberation Sans&quot;,sans-serif;font-size:16px;letter-spacing:-0.1px" shape-rendering="geometricPrecision">35894.6</text>
<rect x="1322" y="224" width="10" height="1" fill="#ff0000"/>
<rect x="1172.5" y="349.5" width="61" height="18" fill="#fff" stroke="#ff0000" stroke-width="1"/>
<text x="1203.0" y="364.3" text-anchor="middle" fill="#ff0000" style="font-family:&quot;Liberation Sans&quot;,sans-serif;font-size:16px;letter-spacing:-0.1px" shape-rendering="geometricPrecision">35361.2</text>
<rect x="1234" y="358" width="10" height="1" fill="#ff0000"/>
<rect x="1230.5" y="514.5" width="73" height="24" fill="#fff" stroke="#ff0000" stroke-width="1"/>
<text x="1267.0" y="533.7" text-anchor="middle" fill="#ff0000" style="font-family:&quot;Liberation Sans&quot;,sans-serif;font-size:20px;letter-spacing:-0.4px" shape-rendering="geometricPrecision">34690.5</text>
<rect x="1220" y="526" width="10" height="1" fill="#ff0000"/>
<rect x="1227" y="524" width="3" height="5" fill="#ff0000"/>
<rect x="1228" y="525" width="1" height="3" fill="#fff"/>
<rect x="1647" y="28" width="2" height="1" fill="#000"/>
<text x="1652" y="31.9" fill="#000" text-anchor="start" style="font-family:&quot;Liberation Sans&quot;,sans-serif;font-size:10.2px;letter-spacing:-0.55px;word-spacing:0px" shape-rendering="geometricPrecision">36678.0</text>
<rect x="1647" y="61" width="2" height="1" fill="#000"/>
<text x="1652" y="64.9" fill="#000" text-anchor="start" style="font-family:&quot;Liberation Sans&quot;,sans-serif;font-size:10.2px;letter-spacing:-0.55px;word-spacing:0px" shape-rendering="geometricPrecision">36545.0</text>
<rect x="1647" y="94" width="2" height="1" fill="#000"/>
<text x="1652" y="97.9" fill="#000" text-anchor="start" style="font-family:&quot;Liberation Sans&quot;,sans-serif;font-size:10.2px;letter-spacing:-0.55px;word-spacing:0px" shape-rendering="geometricPrecision">36412.0</text>
<rect x="1647" y="127" width="2" height="1" fill="#000"/>
<text x="1652" y="130.9" fill="#000" text-anchor="start" style="font-family:&quot;Liberation Sans&quot;,sans-serif;font-size:10.2px;letter-spacing:-0.55px;word-spacing:0px" shape-rendering="geometricPrecision">36282.5</text>
<rect x="1647" y="160" width="2" height="1" fill="#000"/>
<text x="1652" y="163.9" fill="#000" text-anchor="start" style="font-family:&quot;Liberation Sans&quot;,sans-serif;font-size:10.2px;letter-spacing:-0.55px;word-spacing:0px" shape-rendering="geometricPrecision">36149.5</text>
<rect x="1647" y="193" width="2" height="1" fill="#000"/>
<text x="1652" y="196.9" fill="#000" text-anchor="start" style="font-family:&quot;Liberation Sans&quot;,sans-serif;font-size:10.2px;letter-spacing:-0.55px;word-spacing:0px" shape-rendering="geometricPrecision">36020.0</text>
<rect x="1647" y="226" width="2" height="1" fill="#000"/>
<text x="1652" y="229.9" fill="#000" text-anchor="start" style="font-family:&quot;Liberation Sans&quot;,sans-serif;font-size:10.2px;letter-spacing:-0.55px;word-spacing:0px" shape-rendering="geometricPrecision">35887.0</text>
<rect x="1647" y="259" width="2" height="1" fill="#000"/>
<text x="1652" y="262.9" fill="#000" text-anchor="start" style="font-family:&quot;Liberation Sans&quot;,sans-serif;font-size:10.2px;letter-spacing:-0.55px;word-spacing:0px" shape-rendering="geometricPrecision">35757.5</text>
<rect x="1647" y="292" width="2" height="1" fill="#000"/>
<text x="1652" y="295.9" fill="#000" text-anchor="start" style="font-family:&quot;Liberation Sans&quot;,sans-serif;font-size:10.2px;letter-spacing:-0.55px;word-spacing:0px" shape-rendering="geometricPrecision">35624.5</text>
<rect x="1647" y="325" width="2" height="1" fill="#000"/>
<text x="1652" y="328.9" fill="#000" text-anchor="start" style="font-family:&quot;Liberation Sans&quot;,sans-serif;font-size:10.2px;letter-spacing:-0.55px;word-spacing:0px" shape-rendering="geometricPrecision">35491.5</text>
<rect x="1647" y="358" width="2" height="1" fill="#000"/>
<text x="1652" y="361.9" fill="#000" text-anchor="start" style="font-family:&quot;Liberation Sans&quot;,sans-serif;font-size:10.2px;letter-spacing:-0.55px;word-spacing:0px" shape-rendering="geometricPrecision">35362.0</text>
<rect x="1647" y="391" width="2" height="1" fill="#000"/>
<text x="1652" y="394.9" fill="#000" text-anchor="start" style="font-family:&quot;Liberation Sans&quot;,sans-serif;font-size:10.2px;letter-spacing:-0.55px;word-spacing:0px" shape-rendering="geometricPrecision">35229.0</text>
<rect x="1647" y="424" width="2" height="1" fill="#000"/>
<text x="1652" y="427.9" fill="#000" text-anchor="start" style="font-family:&quot;Liberation Sans&quot;,sans-serif;font-size:10.2px;letter-spacing:-0.55px;word-spacing:0px" shape-rendering="geometricPrecision">35099.5</text>
<rect x="1647" y="457" width="2" height="1" fill="#000"/>
<text x="1652" y="460.9" fill="#000" text-anchor="start" style="font-family:&quot;Liberation Sans&quot;,sans-serif;font-size:10.2px;letter-spacing:-0.55px;word-spacing:0px" shape-rendering="geometricPrecision">34966.5</text>
<rect x="1647" y="490" width="2" height="1" fill="#000"/>
<text x="1652" y="493.9" fill="#000" text-anchor="start" style="font-family:&quot;Liberation Sans&quot;,sans-serif;font-size:10.2px;letter-spacing:-0.55px;word-spacing:0px" shape-rendering="geometricPrecision">34837.0</text>
<text x="1652" y="558.5" fill="#000" text-anchor="start" style="font-family:&quot;Liberation Sans&quot;,sans-serif;font-size:10.2px;letter-spacing:-0.55px;word-spacing:0px" shape-rendering="geometricPrecision">34571.0</text>
<text x="1652" y="591.5" fill="#000" text-anchor="start" style="font-family:&quot;Liberation Sans&quot;,sans-serif;font-size:10.2px;letter-spacing:-0.55px;word-spacing:0px" shape-rendering="geometricPrecision">34441.5</text>
<rect x="1648" y="473" width="41" height="11" fill="#ff0000"/>
<text x="1652" y="482" fill="#fff" text-anchor="start" style="font-family:&quot;Liberation Sans&quot;,sans-serif;font-size:10.2px;letter-spacing:-0.55px;word-spacing:0px" shape-rendering="geometricPrecision">34880.3</text>
<rect x="1648" y="500" width="41" height="11" fill="#ff0000"/>
<text x="1652" y="509" fill="#fff" text-anchor="start" style="font-family:&quot;Liberation Sans&quot;,sans-serif;font-size:10.2px;letter-spacing:-0.55px;word-spacing:0px" shape-rendering="geometricPrecision">34769.9</text>
<rect x="1648" y="520" width="41" height="11" fill="#32cd32"/>
<text x="1652" y="529" fill="#fff" text-anchor="start" style="font-family:&quot;Liberation Sans&quot;,sans-serif;font-size:10.2px;letter-spacing:-0.55px;word-spacing:0px" shape-rendering="geometricPrecision">34690.5</text>
<rect x="1648" y="537" width="41" height="11" fill="#000"/>
<text x="1652" y="546" fill="#fff" text-anchor="start" style="font-family:&quot;Liberation Sans&quot;,sans-serif;font-size:10.2px;letter-spacing:-0.55px;word-spacing:0px" shape-rendering="geometricPrecision">34627.5</text>
<rect x="1648" y="556" width="41" height="11" fill="#0000ff"/>
<text x="1652" y="565" fill="#fff" text-anchor="start" style="font-family:&quot;Liberation Sans&quot;,sans-serif;font-size:10.2px;letter-spacing:-0.55px;word-spacing:0px" shape-rendering="geometricPrecision">34547.9</text>
<rect x="1648" y="579" width="41" height="11" fill="#0000ff"/>
<text x="1652" y="588" fill="#fff" text-anchor="start" style="font-family:&quot;Liberation Sans&quot;,sans-serif;font-size:10.2px;letter-spacing:-0.55px;word-spacing:0px" shape-rendering="geometricPrecision">34455.0</text>
<text x="1650" y="605.8" fill="#000" text-anchor="start" style="font-family:&quot;Liberation Sans&quot;,sans-serif;font-size:10.2px;letter-spacing:-0.55px;word-spacing:0px" shape-rendering="geometricPrecision">216.34</text>
<rect x="1647" y="669" width="2" height="1" fill="#000"/>
<text x="1650" y="672.5" fill="#000" text-anchor="start" style="font-family:&quot;Liberation Sans&quot;,sans-serif;font-size:10.2px;letter-spacing:-0.55px;word-spacing:0px" shape-rendering="geometricPrecision">0.00</text>
<text x="1650" y="747" fill="#000" text-anchor="start" style="font-family:&quot;Liberation Sans&quot;,sans-serif;font-size:10.2px;letter-spacing:-0.55px;word-spacing:0px" shape-rendering="geometricPrecision">-238.46</text>
<rect x="1647" y="594" width="1" height="1" fill="#000"/>
<rect x="1647" y="750" width="1" height="1" fill="#000"/>
<rect x="1647" y="752" width="1" height="1" fill="#000"/>
<rect x="1647" y="592" width="1" height="1" fill="#000"/>
<rect x="1647" y="926" width="1" height="1" fill="#000"/>
<text x="1650" y="762.5" fill="#000" text-anchor="start" style="font-family:&quot;Liberation Sans&quot;,sans-serif;font-size:10.2px;letter-spacing:-0.55px;word-spacing:0px" shape-rendering="geometricPrecision">100</text>
<text x="1649" y="792" fill="#000" text-anchor="start" style="font-family:&quot;Liberation Sans&quot;,sans-serif;font-size:10.2px;letter-spacing:-0.55px;word-spacing:0px" shape-rendering="geometricPrecision">80</text>
<text x="1649" y="843" fill="#000" text-anchor="start" style="font-family:&quot;Liberation Sans&quot;,sans-serif;font-size:10.2px;letter-spacing:-0.55px;word-spacing:0px" shape-rendering="geometricPrecision">50</text>
<text x="1649" y="904" fill="#000" text-anchor="start" style="font-family:&quot;Liberation Sans&quot;,sans-serif;font-size:10.2px;letter-spacing:-0.55px;word-spacing:0px" shape-rendering="geometricPrecision">15</text>
<text x="1650" y="923" fill="#000" text-anchor="start" style="font-family:&quot;Liberation Sans&quot;,sans-serif;font-size:10.2px;letter-spacing:-0.55px;word-spacing:0px" shape-rendering="geometricPrecision">0</text>
<text x="-14" y="938" fill="#000" text-anchor="start" style="font-family:&quot;Liberation Sans&quot;,sans-serif;font-size:10.2px;letter-spacing:-0.5px;word-spacing:0.8px" shape-rendering="geometricPrecision">18 Oct 2021</text>
<rect x="51" y="927" width="1" height="3" fill="#000"/>
<text x="50" y="938" fill="#000" text-anchor="start" style="font-family:&quot;Liberation Sans&quot;,sans-serif;font-size:10.2px;letter-spacing:-0.5px;word-spacing:0.8px" shape-rendering="geometricPrecision">20 Oct 08:00</text>
<rect x="115" y="927" width="1" height="3" fill="#000"/>
<text x="114" y="938" fill="#000" text-anchor="start" style="font-family:&quot;Liberation Sans&quot;,sans-serif;font-size:10.2px;letter-spacing:-0.5px;word-spacing:0.8px" shape-rendering="geometricPrecision">21 Oct 16:00</text>
<rect x="179" y="927" width="1" height="3" fill="#000"/>
<text x="178" y="938" fill="#000" text-anchor="start" style="font-family:&quot;Liberation Sans&quot;,sans-serif;font-size:10.2px;letter-spacing:-0.5px;word-spacing:0.8px" shape-rendering="geometricPrecision">24 Oct 23:00</text>
<rect x="243" y="927" width="1" height="3" fill="#000"/>
<text x="242" y="938" fill="#000" text-anchor="start" style="font-family:&quot;Liberation Sans&quot;,sans-serif;font-size:10.2px;letter-spacing:-0.5px;word-spacing:0.8px" shape-rendering="geometricPrecision">26 Oct 04:00</text>
<rect x="307" y="927" width="1" height="3" fill="#000"/>
<text x="306" y="938" fill="#000" text-anchor="start" style="font-family:&quot;Liberation Sans&quot;,sans-serif;font-size:10.2px;letter-spacing:-0.5px;word-spacing:0.8px" shape-rendering="geometricPrecision">27 Oct 12:00</text>
<rect x="371" y="927" width="1" height="3" fill="#000"/>
<text x="370" y="938" fill="#000" text-anchor="start" style="font-family:&quot;Liberation Sans&quot;,sans-serif;font-size:10.2px;letter-spacing:-0.5px;word-spacing:0.8px" shape-rendering="geometricPrecision">28 Oct 20:00</text>
<rect x="435" y="927" width="1" height="3" fill="#000"/>
<text x="434" y="938" fill="#000" text-anchor="start" style="font-family:&quot;Liberation Sans&quot;,sans-serif;font-size:10.2px;letter-spacing:-0.5px;word-spacing:0.8px" shape-rendering="geometricPrecision">1 Nov 00:00</text>
<rect x="499" y="927" width="1" height="3" fill="#000"/>
<text x="498" y="938" fill="#000" text-anchor="start" style="font-family:&quot;Liberation Sans&quot;,sans-serif;font-size:10.2px;letter-spacing:-0.5px;word-spacing:0.8px" shape-rendering="geometricPrecision">2 Nov 08:00</text>
<rect x="563" y="927" width="1" height="3" fill="#000"/>
<text x="562" y="938" fill="#000" text-anchor="start" style="font-family:&quot;Liberation Sans&quot;,sans-serif;font-size:10.2px;letter-spacing:-0.5px;word-spacing:0.8px" shape-rendering="geometricPrecision">3 Nov 16:00</text>
<rect x="627" y="927" width="1" height="3" fill="#000"/>
<text x="626" y="938" fill="#000" text-anchor="start" style="font-family:&quot;Liberation Sans&quot;,sans-serif;font-size:10.2px;letter-spacing:-0.5px;word-spacing:0.8px" shape-rendering="geometricPrecision">5 Nov 00:00</text>
<rect x="691" y="927" width="1" height="3" fill="#000"/>
<text x="690" y="938" fill="#000" text-anchor="start" style="font-family:&quot;Liberation Sans&quot;,sans-serif;font-size:10.2px;letter-spacing:-0.5px;word-spacing:0.8px" shape-rendering="geometricPrecision">8 Nov 04:00</text>
<rect x="755" y="927" width="1" height="3" fill="#000"/>
<text x="754" y="938" fill="#000" text-anchor="start" style="font-family:&quot;Liberation Sans&quot;,sans-serif;font-size:10.2px;letter-spacing:-0.5px;word-spacing:0.8px" shape-rendering="geometricPrecision">9 Nov 12:00</text>
<rect x="819" y="927" width="1" height="3" fill="#000"/>
<text x="818" y="938" fill="#000" text-anchor="start" style="font-family:&quot;Liberation Sans&quot;,sans-serif;font-size:10.2px;letter-spacing:-0.5px;word-spacing:0.8px" shape-rendering="geometricPrecision">10 Nov 20:00</text>
<rect x="883" y="927" width="1" height="3" fill="#000"/>
<text x="882" y="938" fill="#000" text-anchor="start" style="font-family:&quot;Liberation Sans&quot;,sans-serif;font-size:10.2px;letter-spacing:-0.5px;word-spacing:0.8px" shape-rendering="geometricPrecision">12 Nov 04:00</text>
<rect x="947" y="927" width="1" height="3" fill="#000"/>
<text x="946" y="938" fill="#000" text-anchor="start" style="font-family:&quot;Liberation Sans&quot;,sans-serif;font-size:10.2px;letter-spacing:-0.5px;word-spacing:0.8px" shape-rendering="geometricPrecision">15 Nov 08:00</text>
<rect x="1011" y="927" width="1" height="3" fill="#000"/>
<text x="1010" y="938" fill="#000" text-anchor="start" style="font-family:&quot;Liberation Sans&quot;,sans-serif;font-size:10.2px;letter-spacing:-0.5px;word-spacing:0.8px" shape-rendering="geometricPrecision">16 Nov 16:00</text>
<rect x="1075" y="927" width="1" height="3" fill="#000"/>
<text x="1074" y="938" fill="#000" text-anchor="start" style="font-family:&quot;Liberation Sans&quot;,sans-serif;font-size:10.2px;letter-spacing:-0.5px;word-spacing:0.8px" shape-rendering="geometricPrecision">18 Nov 00:00</text>
<rect x="1139" y="927" width="1" height="3" fill="#000"/>
<text x="1138" y="938" fill="#000" text-anchor="start" style="font-family:&quot;Liberation Sans&quot;,sans-serif;font-size:10.2px;letter-spacing:-0.5px;word-spacing:0.8px" shape-rendering="geometricPrecision">19 Nov 08:00</text>
<rect x="1203" y="927" width="1" height="3" fill="#000"/>
<text x="1202" y="938" fill="#000" text-anchor="start" style="font-family:&quot;Liberation Sans&quot;,sans-serif;font-size:10.2px;letter-spacing:-0.5px;word-spacing:0.8px" shape-rendering="geometricPrecision">22 Nov 12:00</text>
<rect x="1267" y="927" width="1" height="3" fill="#000"/>
<text x="1266" y="938" fill="#000" text-anchor="start" style="font-family:&quot;Liberation Sans&quot;,sans-serif;font-size:10.2px;letter-spacing:-0.5px;word-spacing:0.8px" shape-rendering="geometricPrecision">23 Nov 20:00</text>
<rect x="1331" y="927" width="1" height="3" fill="#000"/>
<text x="1330" y="938" fill="#000" text-anchor="start" style="font-family:&quot;Liberation Sans&quot;,sans-serif;font-size:10.2px;letter-spacing:-0.5px;word-spacing:0.8px" shape-rendering="geometricPrecision">25 Nov 04:00</text>
<rect x="1395" y="927" width="1" height="3" fill="#000"/>
<text x="1394" y="938" fill="#000" text-anchor="start" style="font-family:&quot;Liberation Sans&quot;,sans-serif;font-size:10.2px;letter-spacing:-0.5px;word-spacing:0.8px" shape-rendering="geometricPrecision">26 Nov 12:00</text>
<text x="2.5" y="36.5" fill="#000" text-anchor="start" style="font-family:&quot;Liberation Sans&quot;,sans-serif;font-size:10.2px;letter-spacing:-0.45px;word-spacing:0px" shape-rendering="geometricPrecision">DJ30-,H4&#160;&#160;34822.0 35010.0 34626.0 34627.5</text>
<text x="-9" y="607.6" fill="#000" text-anchor="start" style="font-family:&quot;Liberation Sans&quot;,sans-serif;font-size:10.2px;letter-spacing:-0.45px;word-spacing:0px" shape-rendering="geometricPrecision">MACD(12,26,9) -217.79 -66.45</text>
<text x="-7.5" y="765" fill="#000" text-anchor="start" style="font-family:&quot;Liberation Sans&quot;,sans-serif;font-size:10.2px;letter-spacing:-0.45px;word-spacing:0px" shape-rendering="geometricPrecision">RSI(14) 18.4263</text>
<polygon points="1406,26 1416,26 1411,31" fill="#c0c0c0" shape-rendering="geometricPrecision"/>
</svg>
<div id="tb"></div><div id="tbl1"></div><div id="tbl2"></div><div id="tbl3"></div><div id="redge"></div>
<svg id="toolbar" width="1693" height="24" viewBox="0 0 1693 24" style="position:absolute;left:0;top:0">
<defs><linearGradient id="gGold" x1="0" y1="0" x2="1" y2="1"><stop offset="0" stop-color="#f7d766"/><stop offset="0.5" stop-color="#e0a820"/><stop offset="1" stop-color="#9a6c08"/></linearGradient><linearGradient id="gGreen" x1="0" y1="0" x2="0" y2="1"><stop offset="0" stop-color="#5fe35f"/><stop offset="1" stop-color="#0f9a0f"/></linearGradient><linearGradient id="gBlue" x1="0" y1="0" x2="0" y2="1"><stop offset="0" stop-color="#58b0ff"/><stop offset="1" stop-color="#1c62d6"/></linearGradient><linearGradient id="gRed" x1="0" y1="0" x2="0" y2="1"><stop offset="0" stop-color="#ee5a40"/><stop offset="1" stop-color="#cc1c10"/></linearGradient><linearGradient id="gCloud" x1="0" y1="0" x2="0" y2="1"><stop offset="0" stop-color="#ffffff"/><stop offset="1" stop-color="#b8c8e8"/></linearGradient><radialGradient id="gLens" cx="0.4" cy="0.35" r="0.7"><stop offset="0" stop-color="#ffffff"/><stop offset="1" stop-color="#a8d0f8"/></radialGradient><pattern id="dith" width="2" height="2" patternUnits="userSpaceOnUse"><rect width="2" height="2" fill="#f0f0f0"/><rect width="1" height="1" fill="#ffffff"/><rect x="1" y="1" width="1" height="1" fill="#ffffff"/></pattern></defs>
<rect x="7" y="1" width="1" height="18" fill="#a0a0a0" shape-rendering="crispEdges"/>
<path d="M17.5,1.5 H25 L28.5,5 V14.5 H17.5 Z" fill="#fdfdfd" stroke="#8a8a8a" stroke-width="1"/>
<path d="M25,1.5 V5 H28.5" fill="none" stroke="#8a8a8a" stroke-width="0.8"/>
<path d="M19.5,4.5 H23 M19.5,7 H26 M19.5,9.5 H24 M19.5,12 H22" stroke="#9a9a9a" stroke-width="1"/>
<path d="M25.1,7.200000000000001 H28.9 V10.9 H32.6 V14.700000000000001 H28.9 V18.4 H25.1 V14.700000000000001 H21.4 V10.9 H25.1 Z" fill="url(#gGreen)" stroke="#0c7a0c" stroke-width="0.8"/>
<g transform="translate(36,1.5) scale(1.0)" stroke="#000" stroke-width="1.05" fill="none" stroke-linecap="square"><path d="M2.6,0.4 L3.3,1.5 M0.5,2.4 H6 M1.8,3.4 L2.3,4.9 M4.8,3.4 L4.2,4.9 M0.3,5.7 H6.3 M0.8,8 H5.9 M3.3,5.7 V11.6 M3,8.4 L0.7,10.8 M3.7,8.4 L5.9,10.4 M11,0.7 L7.6,2 M7.6,2 V7 Q7.5,10 6.4,11.6 M7.6,5 H11.9 M10,5 V11.8"/></g>
<g transform="translate(48,1.5) scale(1.0)" stroke="#000" stroke-width="1.05" fill="none" stroke-linecap="square"><path d="M1.5,0.9 L2.6,2.2 M0.5,4.5 H2.8 V10.2 L4.4,8.8 M4.6,2 H11.8 M8.5,2 V10.6 Q8.5,11.7 6.8,11.2"/></g>
<g transform="translate(60,1.5) scale(1.0)" stroke="#000" stroke-width="1.05" fill="none" stroke-linecap="square"><path d="M3.2,0.4 L4.2,2 M8.8,0.4 L7.8,2 M2,2.6 H10 V7.4 H2 Z M2,5 H10 M6,2.6 V11.9 M0.5,9.5 H11.5"/></g>
<path d="M89.8,2.8 L99.6,9.6 L92.6,16.8 L84.2,10.8 Z" fill="url(#gGold)" stroke="#8a6206" stroke-width="0.8"/>
<path d="M84.2,10.8 L92.6,16.8 L99.6,9.6 L99.8,11.4 L92.8,18 L84.3,12.4 Z" fill="#b88412" stroke="#8a6206" stroke-width="0.5"/>
<path d="M114.5,2 L121,0.8 L124.5,2.2 V10.5 H114.5 Z" fill="url(#gBlue)" stroke="#2a6ac8" stroke-width="0.6"/>
<rect x="118" y="4" width="5" height="1.4" fill="#cfe6ff"/><rect x="118" y="6.6" width="5" height="1.2" fill="#9fcaf8"/>
<path d="M114.5,16.6 Q111.8,16.4 112,13.8 Q112.3,11.6 115,11.8 Q116,9.2 119,9.6 Q121.2,9.8 121.8,11.6 Q123.4,10.6 125,11.6 Q126.2,12.4 126,13.6 Q128.2,13.8 128,15.4 Q127.8,16.6 126,16.6 Z" fill="url(#gCloud)" stroke="#6f8fc4" stroke-width="0.8"/>
<circle cx="147.8" cy="9" r="7" fill="#e8eef8" stroke="#8fb0e0" stroke-width="1"/>
<path d="M147.8,9 L147.8,16 A7,7 0 0 0 154.8,9 Z" fill="#3aa83a"/>
<circle cx="147.8" cy="9" r="4.6" fill="none" stroke="#3a6ad0" stroke-width="1.2"/>
<circle cx="147.8" cy="9" r="2" fill="#2a58c8"/>
<path d="M147.8,9 V16.5" stroke="#2a8a2a" stroke-width="1.2"/>
<path d="M169.5,7.5 Q175,18 181,13 L181.5,7.5 Z" fill="#f3c326" stroke="#c89a10" stroke-width="0.6"/>
<ellipse cx="175" cy="6" rx="7.6" ry="2.6" fill="#5aa0e8" stroke="#3a78c8" stroke-width="0.6"/>
<path d="M170.5,5.5 Q171,1.2 175,1.2 Q179,1.2 179.5,5.5 Z" fill="#6ab0f0" stroke="#3a78c8" stroke-width="0.6"/>
<circle cx="179.6" cy="12.8" r="4.2" fill="#e02818" stroke="#a81408" stroke-width="0.6"/><rect x="177.8" y="11" width="3.6" height="3.6" fill="#fff"/>
<g transform="translate(188.5,2) scale(0.98)" stroke="#000" stroke-width="1.05" fill="none" stroke-linecap="square"><path d="M6,0.2 L5,1.8 M2.5,2 H9.5 V11.6 H2.5 Z M2.5,5.1 H9.5 M2.5,8.3 H9.5"/></g>
<g transform="translate(200.3,2) scale(0.98)" stroke="#000" stroke-width="1.05" fill="none" stroke-linecap="square"><path d="M1,2 H5.5 M0.3,5 H6 M3.2,5 L1.4,9.5 L5.5,9 M4.4,7.4 L5.8,10 M6.6,3.6 H11.2 V10 Q11.2,11.6 9.7,11 M8.8,0.7 V5 Q8.6,9.5 6.3,11.6"/></g>
<g transform="translate(212.1,2) scale(0.98)" stroke="#000" stroke-width="1.05" fill="none" stroke-linecap="square"><path d="M6,0.2 V1.8 M0.5,2.3 H11.5 M4,3.6 L1.5,6 M8,3.6 L10.5,6 M8.8,5.5 Q6,10 0.7,11.7 M3.2,5.5 Q6,10 11.5,11.7"/></g>
<g transform="translate(223.9,2) scale(0.98)" stroke="#000" stroke-width="1.05" fill="none" stroke-linecap="square"><path d="M3,0.8 H9 V5.2 H3 Z M3,3 H9 M3.5,5.2 Q2.5,7 0.5,8.3 M2.8,6.8 H10.8 Q10.8,11 9.2,11.7 M6,7 Q5,9.6 2.4,11 M8.4,7 Q7.5,9.9 5,11.7"/></g>
<rect x="243" y="1" width="1" height="18" fill="#a0a0a0" shape-rendering="crispEdges"/>
<rect x="246" y="2" width="3" height="1" fill="#b8b8b8" shape-rendering="crispEdges"/>
<rect x="246" y="4" width="3" height="1" fill="#b8b8b8" shape-rendering="crispEdges"/>
<rect x="246" y="6" width="3" height="1" fill="#b8b8b8" shape-rendering="crispEdges"/>
<rect x="246" y="8" width="3" height="1" fill="#b8b8b8" shape-rendering="crispEdges"/>
<rect x="246" y="10" width="3" height="1" fill="#b8b8b8" shape-rendering="crispEdges"/>
<rect x="246" y="12" width="3" height="1" fill="#b8b8b8" shape-rendering="crispEdges"/>
<rect x="246" y="14" width="3" height="1" fill="#b8b8b8" shape-rendering="crispEdges"/>
<rect x="246" y="16" width="3" height="1" fill="#b8b8b8" shape-rendering="crispEdges"/>
<rect x="246" y="18" width="3" height="1" fill="#b8b8b8" shape-rendering="crispEdges"/>
<g stroke="#444" stroke-width="1" fill="none"><path d="M261.5,3 V17 M259,14.5 H273"/><path d="M260.0,5 L261.5,3 L263.0,5 M271,13.0 L273,14.5 L271,16.0"/></g>
<path d="M267.8,4.8 V12.4 M267.8,5.2 H270.4 M265,12 H267.8" stroke="#1c9a1c" stroke-width="1.3" fill="none"/>
<rect x="281" y="1" width="1" height="18" fill="#a0a0a0" shape-rendering="crispEdges"/>
<rect x="282" y="0" width="23" height="20" fill="url(#dith)" shape-rendering="crispEdges"/>
<g stroke="#444" stroke-width="1" fill="none"><path d="M289.5,3 V17 M287,14.5 H301"/><path d="M288.0,5 L289.5,3 L291.0,5 M299,13.0 L301,14.5 L299,16.0"/></g>
<path d="M295.5,1.5 V13" stroke="#107010" stroke-width="1"/><rect x="293" y="3.8" width="5" height="6.8" fill="#22d022" stroke="#107010" stroke-width="0.8"/>
<g stroke="#444" stroke-width="1" fill="none"><path d="M317.5,3 V17 M315,14.5 H329"/><path d="M316.0,5 L317.5,3 L319.0,5 M327,13.0 L329,14.5 L327,16.0"/></g>
<path d="M316,12 Q321,3 323,6.5 Q325,9.5 328,10.5" stroke="#1c9a1c" stroke-width="1.2" fill="none"/>
<rect x="338" y="1" width="1" height="18" fill="#a0a0a0" shape-rendering="crispEdges"/>
<path d="M357.6,11.399999999999999 L362.6,16.2" stroke="#c89a18" stroke-width="2.6" stroke-linecap="round"/>
<circle cx="353" cy="6.6" r="5.6" fill="url(#gLens)" stroke="#4a86d8" stroke-width="1.2"/>
<path d="M350,6.6 H356 M353,3.6 V9.6" stroke="#2a62c0" stroke-width="1.6"/>
<path d="M385.6,11.399999999999999 L390.6,16.2" stroke="#c89a18" stroke-width="2.6" stroke-linecap="round"/>
<circle cx="381" cy="6.6" r="5.6" fill="url(#gLens)" stroke="#4a86d8" stroke-width="1.2"/>
<path d="M378,6.6 H384" stroke="#2a62c0" stroke-width="1.6"/>
<rect x="403" y="1.3" width="7.8" height="7.6" fill="#4fa818"/>
<rect x="404.4" y="4.3" width="5" height="2.6" fill="#eef4ff"/><rect x="404" y="2.3" width="1" height="1" fill="#dfe"/>
<rect x="411.2" y="1.3" width="7.8" height="7.6" fill="#2454c8"/>
<rect x="412.59999999999997" y="4.3" width="5" height="2.6" fill="#eef4ff"/><rect x="412.2" y="2.3" width="1" height="1" fill="#dfe"/>
<rect x="403" y="9.4" width="7.8" height="7.6" fill="#2454c8"/>
<rect x="404.4" y="12.4" width="5" height="2.6" fill="#eef4ff"/><rect x="404" y="10.4" width="1" height="1" fill="#dfe"/>
<rect x="411.2" y="9.4" width="7.8" height="7.6" fill="#4fa818"/>
<rect x="412.59999999999997" y="12.4" width="5" height="2.6" fill="#eef4ff"/><rect x="412.2" y="10.4" width="1" height="1" fill="#dfe"/>
<rect x="428" y="1" width="1" height="18" fill="#a0a0a0" shape-rendering="crispEdges"/>
<rect x="433" y="0" width="25" height="20" fill="url(#dith)" shape-rendering="crispEdges"/>
<g stroke="#444" stroke-width="1" fill="none"><path d="M441.5,3 V17 M439,14.5 H453"/><path d="M440.0,5 L441.5,3 L443.0,5 M451,13.0 L453,14.5 L451,16.0"/></g>
<polygon points="446,5.6 446,12 450.2,8.8" fill="#28c028" stroke="#148a14" stroke-width="0.7"/>
<rect x="461" y="1" width="1" height="18" fill="#a0a0a0" shape-rendering="crispEdges"/>
<rect x="462" y="0" width="23" height="20" fill="url(#dith)" shape-rendering="crispEdges"/>
<g stroke="#444" stroke-width="1" fill="none"><path d="M469.5,3 V17 M467,14.5 H481"/><path d="M468.0,5 L469.5,3 L471.0,5 M479,13.0 L481,14.5 L479,16.0"/></g>
<path d="M475.5,3 V13.5" stroke="#2a6aa8" stroke-width="1.1"/><path d="M481.5,8.6 H477 M479,6.6 L476.8,8.6 L479,10.6" stroke="#c83a10" stroke-width="1.1" fill="none"/>
<rect x="490" y="1" width="1" height="18" fill="#a0a0a0" shape-rendering="crispEdges"/>
<path d="M500.5,1.5 H507.5 L511,5 V14.5 H500.5 Z" fill="#fdfdfd" stroke="#8a8a8a" stroke-width="1"/><path d="M507.5,1.5 V5 H511" fill="none" stroke="#8a8a8a" stroke-width="0.8"/>
<path d="M505.6,3.6 Q503.6,3.2 503.6,5.6 V12 M502.2,7.2 H505.2" stroke="#555" stroke-width="0.9" fill="none"/>
<path d="M508.1,7.200000000000001 H511.9 V10.9 H515.6 V14.700000000000001 H511.9 V18.4 H508.1 V14.700000000000001 H504.4 V10.9 H508.1 Z" fill="url(#gGreen)" stroke="#0c7a0c" stroke-width="0.8"/>
<polygon points="522,8 527.4,8 524.7,11" fill="#000"/>
<circle cx="546" cy="9" r="7.2" fill="#fff" stroke="url(#gBlue)" stroke-width="2.2"/>
<circle cx="546" cy="9" r="7.2" fill="none" stroke="#2a66d4" stroke-width="2.2"/>
<path d="M546,4.6 V9.2 H549.4" stroke="#333" stroke-width="1.1" fill="none"/>
<polygon points="561,8 566.4,8 563.7,11" fill="#000"/>
<rect x="577.9" y="2.3" width="15" height="13.4" fill="#fff" stroke="#3a78d0" stroke-width="1.2"/><rect x="577.9" y="2.3" width="15" height="2" fill="#5a98e8"/><path d="M578,10.2 H593" stroke="#3a78d0" stroke-width="1"/>
<path d="M579.5,8.4 L582.5,7 L585,7.6 L588,6 L591.5,6.4" stroke="#b03010" stroke-width="1" fill="none"/><path d="M579.5,13.6 L582.5,12.4 L585,13.2 L587.6,11.6 L591.5,13.4" stroke="#18a018" stroke-width="1" fill="none"/>
<polygon points="600,8 605.4,8 602.7,11" fill="#000"/>
<rect x="611" y="1" width="1" height="18" fill="#a0a0a0" shape-rendering="crispEdges"/>
<rect x="614" y="2" width="3" height="1" fill="#b8b8b8" shape-rendering="crispEdges"/>
<rect x="614" y="4" width="3" height="1" fill="#b8b8b8" shape-rendering="crispEdges"/>
<rect x="614" y="6" width="3" height="1" fill="#b8b8b8" shape-rendering="crispEdges"/>
<rect x="614" y="8" width="3" height="1" fill="#b8b8b8" shape-rendering="crispEdges"/>
<rect x="614" y="10" width="3" height="1" fill="#b8b8b8" shape-rendering="crispEdges"/>
<rect x="614" y="12" width="3" height="1" fill="#b8b8b8" shape-rendering="crispEdges"/>
<rect x="614" y="14" width="3" height="1" fill="#b8b8b8" shape-rendering="crispEdges"/>
<rect x="614" y="16" width="3" height="1" fill="#b8b8b8" shape-rendering="crispEdges"/>
<rect x="614" y="18" width="3" height="1" fill="#b8b8b8" shape-rendering="crispEdges"/>
<rect x="621" y="1" width="1" height="18" fill="#a0a0a0" shape-rendering="crispEdges"/>
<rect x="622" y="0" width="24" height="20" fill="url(#dith)" shape-rendering="crispEdges"/>
<path d="M628.8,2.6 L628.8,13.4 L631.4,10.8 L633.4,15.4 L635.2,14.6 L633.2,10.2 L636.8,10.2 Z" fill="#484848"/>
<path d="M654,9.5 H660 M663,9.5 H669 M661.5,2 V8 M661.5,11 V17" stroke="#444" stroke-width="1" shape-rendering="crispEdges"/>
<rect x="678" y="1" width="1" height="18" fill="#a0a0a0" shape-rendering="crispEdges"/>
<path d="M695.5,3 V16" stroke="#444" stroke-width="1" shape-rendering="crispEdges"/>
<path d="M718,9.5 H730" stroke="#444" stroke-width="1" shape-rendering="crispEdges"/>
<path d="M745.8,16 L758,4" stroke="#444" stroke-width="1"/>
<path d="M772.5,11 L785,2.5 M773.5,15.5 L786,7 M775.5,9 L774,15 M778,7.2 L777,13.2 M780.8,5.4 L779.8,11.2 M783.4,3.6 L782.6,9.4 M784,0.8 L783.6,3.6" stroke="#444" stroke-width="0.9" fill="none"/>
<text x="782.6" y="17.6" style="font-family:&quot;Liberation Sans&quot;,sans-serif;font-size:6.4px;font-weight:bold" fill="#333">E</text>
<path d="M801,2.5 H814" stroke="#555" stroke-width="1" stroke-dasharray="1 1" shape-rendering="crispEdges"/>
<path d="M801,5.5 H814" stroke="#555" stroke-width="1" stroke-dasharray="1 1" shape-rendering="crispEdges"/>
<path d="M801,9.5 H814" stroke="#555" stroke-width="1" stroke-dasharray="1 1" shape-rendering="crispEdges"/>
<path d="M801,13.5 H814" stroke="#555" stroke-width="1" stroke-dasharray="1 1" shape-rendering="crispEdges"/>
<text x="810.6" y="17.6" style="font-family:&quot;Liberation Sans&quot;,sans-serif;font-size:6.4px;font-weight:bold" fill="#333">F</text>
<text x="831.6" y="13.6" style="font-family:&quot;Liberation Sans&quot;,sans-serif;font-size:12px" fill="#444">A</text>
<rect x="858.5" y="3.5" width="11" height="12" fill="none" stroke="#555" stroke-width="1" stroke-dasharray="1 1" shape-rendering="crispEdges"/>
<text x="860.2" y="13.8" style="font-family:&quot;Liberation Sans&quot;,sans-serif;font-size:11.5px;font-weight:bold" fill="#444">T</text>
<polygon points="888.5,2.8 892,6 888.5,9.2 885,6" fill="#444"/><polygon points="895,9.2 898.6,12.4 895,15.6 891.4,12.4" fill="#444"/><path d="M886.5,10 L888.5,12.4 L893,6.6" stroke="#444" stroke-width="1.1" fill="none"/>
<polygon points="905.7,8 911.1,8 908.4000000000001,11" fill="#000"/>
<rect x="917" y="1" width="1" height="18" fill="#a0a0a0" shape-rendering="crispEdges"/>
<rect x="921" y="2" width="3" height="1" fill="#b8b8b8" shape-rendering="crispEdges"/>
<rect x="921" y="4" width="3" height="1" fill="#b8b8b8" shape-rendering="crispEdges"/>
<rect x="921" y="6" width="3" height="1" fill="#b8b8b8" shape-rendering="crispEdges"/>
<rect x="921" y="8" width="3" height="1" fill="#b8b8b8" shape-rendering="crispEdges"/>
<rect x="921" y="10" width="3" height="1" fill="#b8b8b8" shape-rendering="crispEdges"/>
<rect x="921" y="12" width="3" height="1" fill="#b8b8b8" shape-rendering="crispEdges"/>
<rect x="921" y="14" width="3" height="1" fill="#b8b8b8" shape-rendering="crispEdges"/>
<rect x="921" y="16" width="3" height="1" fill="#b8b8b8" shape-rendering="crispEdges"/>
<rect x="921" y="18" width="3" height="1" fill="#b8b8b8" shape-rendering="crispEdges"/>
<rect x="1067" y="1" width="1" height="18" fill="#a0a0a0" shape-rendering="crispEdges"/>
<rect x="1068" y="0" width="25" height="20" fill="url(#dith)" shape-rendering="crispEdges"/>
<text x="932.0" y="12.9" style="font-family:&quot;Liberation Sans&quot;,sans-serif;font-size:10.3px;letter-spacing:-0.45px" fill="#404040">M1</text>
<text x="960.1999999999999" y="12.9" style="font-family:&quot;Liberation Sans&quot;,sans-serif;font-size:10.3px;letter-spacing:-0.45px" fill="#404040">M5</text>
<text x="985.9" y="12.9" style="font-family:&quot;Liberation Sans&quot;,sans-serif;font-size:10.3px;letter-spacing:-0.45px" fill="#404040">M15</text>
<text x="1014.0" y="12.9" style="font-family:&quot;Liberation Sans&quot;,sans-serif;font-size:10.3px;letter-spacing:-0.45px" fill="#404040">M30</text>
<text x="1045.1000000000001" y="12.9" style="font-family:&quot;Liberation Sans&quot;,sans-serif;font-size:10.3px;letter-spacing:-0.45px" fill="#404040">H1</text>
<text x="1071.9" y="12.9" style="font-family:&quot;Liberation Sans&quot;,sans-serif;font-size:10.3px;letter-spacing:-0.45px" fill="#404040">H4</text>
<text x="1101.0" y="12.9" style="font-family:&quot;Liberation Sans&quot;,sans-serif;font-size:10.3px;letter-spacing:-0.45px" fill="#404040">D1</text>
<text x="1128.4" y="12.9" style="font-family:&quot;Liberation Sans&quot;,sans-serif;font-size:10.3px;letter-spacing:-0.45px" fill="#404040">W1</text>
<text x="1155.2" y="12.9" style="font-family:&quot;Liberation Sans&quot;,sans-serif;font-size:10.3px;letter-spacing:-0.45px" fill="#404040">MN</text>
<rect x="1178" y="1" width="1" height="18" fill="#a0a0a0" shape-rendering="crispEdges"/>
<path d="M1645.2,9.8 L1640.6,14" stroke="#2458d0" stroke-width="2.2" stroke-linecap="round"/><circle cx="1648.7" cy="6.6" r="3.7" fill="#f8fbff" stroke="#2a5ad8" stroke-width="1.3"/>
<path d="M1666,11.4 A5.2,4.4 0 1 1 1670.6,15.6 L1668.2,17.6 L1668.6,15.2 A5.2,4.4 0 0 1 1666,11.4 Z" fill="#eef0f6" stroke="#b8bcc8" stroke-width="0.8"/>
<circle cx="1679.5" cy="6.8" r="8.2" fill="url(#gRed)"/>
<text x="1679.4" y="11.4" text-anchor="middle" style="font-family:&quot;Liberation Sans&quot;,sans-serif;font-size:12.5px" fill="#fff">1</text>
</svg>
<div id="trade" style="position:absolute;left:0;top:45px;width:210px;height:58px;font-family:'Liberation Sans',sans-serif;">
<div style="position:absolute;left:0;top:0;width:42px;height:25px;background:linear-gradient(#f14f4f,#dc3232);"></div>
<div style="position:absolute;left:157px;top:0;width:52px;height:25px;background:linear-gradient(#f14f4f,#dc3232);"></div>
<div style="position:absolute;left:0;top:24px;width:99px;height:33px;background:linear-gradient(#d93030,#d02020 40%,#b40404);"></div>
<div style="position:absolute;left:101px;top:24px;width:108px;height:33px;background:linear-gradient(#d93030,#d02020 40%,#b40404);"></div>
<div style="position:absolute;left:0;top:23.5px;width:38px;height:1px;background:#f59a9a;"></div>
<div style="position:absolute;left:161px;top:23.5px;width:44px;height:1px;background:#f59a9a;"></div>
<div style="position:absolute;left:2.2px;top:4.6px;font-size:11.8px;line-height:13px;color:#fff;letter-spacing:0;transform:scaleX(0.87);transform-origin:0 0;">SELL</div>
<div style="position:absolute;left:170.2px;top:4.6px;font-size:11.8px;line-height:13px;color:#fff;letter-spacing:0;transform:scaleX(0.95);transform-origin:0 0;">BUY</div>
<div style="position:absolute;left:42px;top:0;width:115px;height:25px;background:#fff;"></div>
<div style="position:absolute;left:44px;top:0px;width:110px;height:20.5px;border:1px solid #a8aeb8;background:#fff;box-sizing:content-box;"></div>
<div style="position:absolute;left:45.5px;top:1.5px;width:19.5px;height:18.5px;background:linear-gradient(#f4f4f4,#d8d8d8);border-right:1px solid #b4b8c0;"></div>
<div style="position:absolute;left:134px;top:1.5px;width:19.5px;height:18.5px;background:linear-gradient(#f4f4f4,#d8d8d8);border-left:1px solid #b4b8c0;"></div>
<svg style="position:absolute;left:0;top:0" width="210" height="58"><polygon points="51.8,9.2 57,9.2 54.4,12.2" fill="#5a78d0"/><polygon points="141,11.8 146.2,11.8 143.6,8.8" fill="#5a78d0"/><path d="M62,21.6 L63.4,20.2 L64.8,21.6 L63.4,23 Z" fill="none" stroke="#333" stroke-width="0.7"/></svg>
<div style="position:absolute;left:66px;top:4.6px;width:64.2px;text-align:right;font-size:12.4px;line-height:13px;color:#000;letter-spacing:0.2px;">1.00</div>
<div style="position:absolute;left:6.6px;top:41.5px;font-size:11.6px;line-height:12px;font-weight:bold;color:#fff;letter-spacing:0.7px;">34626</div>
<div style="position:absolute;left:116.8px;top:41.5px;font-size:11.6px;line-height:12px;font-weight:bold;color:#fff;letter-spacing:0.7px;">34679</div>
<div style="position:absolute;left:45.8px;top:48.3px;width:3.7px;height:3.7px;background:#fff;"></div>
<div style="position:absolute;left:156.6px;top:48.3px;width:3.7px;height:3.7px;background:#fff;"></div>
<div style="position:absolute;left:51.2px;top:24.5px;font-size:32.5px;line-height:32px;color:#fff;transform:scaleX(0.96);transform-origin:0 0;">0</div>
<div style="position:absolute;left:162px;top:24.5px;font-size:32.5px;line-height:32px;color:#fff;transform:scaleX(0.96);transform-origin:0 0;">0</div>
</div>

</body></html>
